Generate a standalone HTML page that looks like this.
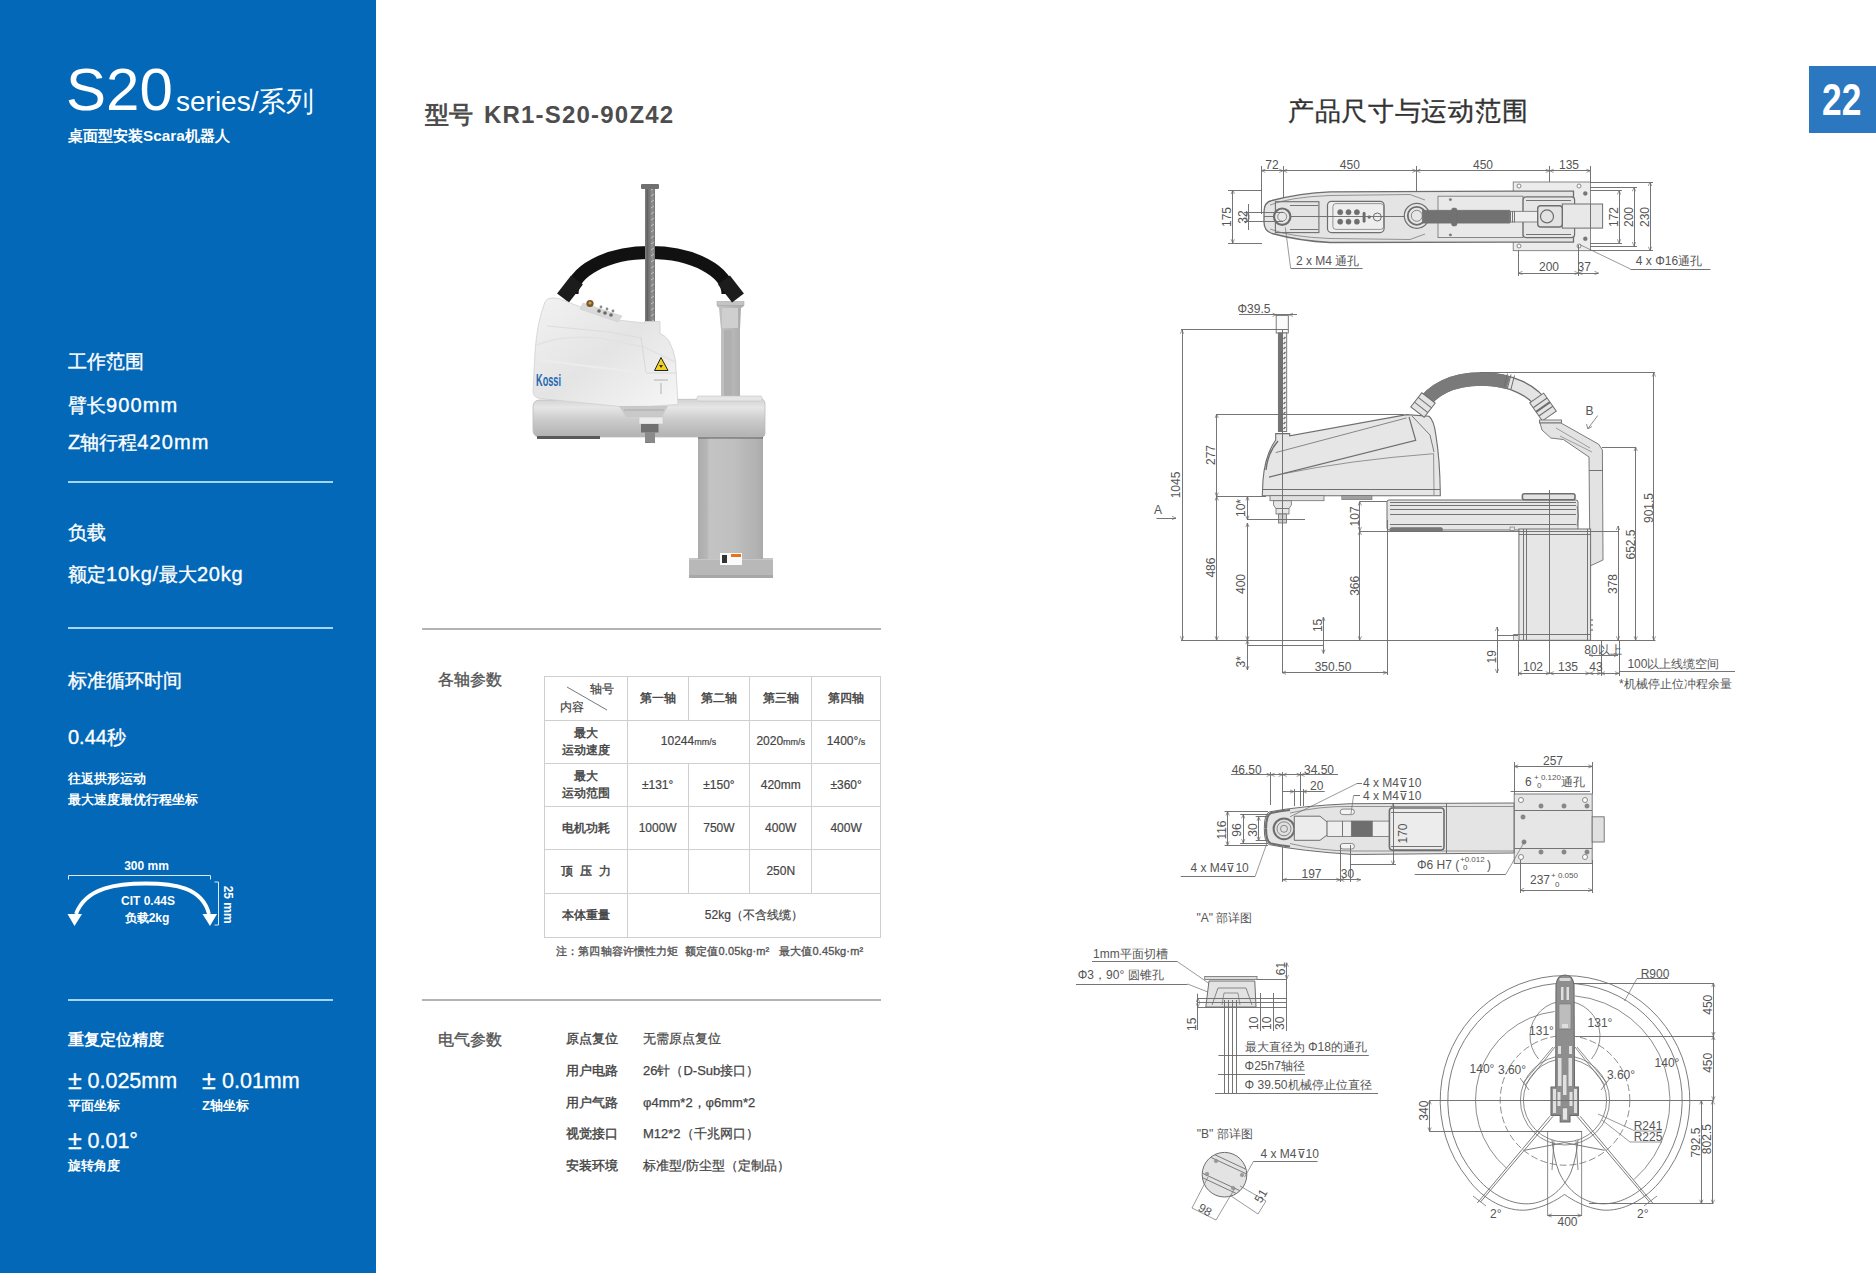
<!DOCTYPE html>
<html><head><meta charset="utf-8">
<style>
*{margin:0;padding:0;box-sizing:border-box}
html,body{width:1876px;height:1273px;overflow:hidden;background:#fff}
body{position:relative;font-family:"Liberation Sans",sans-serif;color:#444}
.a{position:absolute;white-space:nowrap;line-height:1}
#lp{position:absolute;left:0;top:0;width:376px;height:1273px;background:#0268b7;color:#fff}
#lp .a{color:#fff}
.hl{position:absolute;left:68px;width:265px;height:2px;background:#a3d5f7}
.gl{position:absolute;left:422px;width:459px;height:2px;background:#b4b4b4}
#pg{position:absolute;left:1809px;top:66px;width:67px;height:67px;background:#2b78c0}
table.t{position:absolute;left:544px;top:676px;border-collapse:collapse;font-size:12px;color:#444}
table.t td{border:1.5px solid #cfcfcf;text-align:center;vertical-align:middle;line-height:17px;-webkit-text-stroke:0.2px #444}
table.t td.h{font-weight:normal;-webkit-text-stroke:0.45px #444}
.lb{-webkit-text-stroke:0.4px #444}.vl{-webkit-text-stroke:0.25px #444}
svg{position:absolute;left:0;top:0}
</style></head><body>
<div id="lp">
  <div class="a" style="left:66px;top:59.5px;font-size:60px">S20</div>
  <div class="a" style="left:176px;top:88px;font-size:28px">series/系列</div>
  <div class="a" style="left:68px;top:128px;font-size:15.3px;font-weight:bold">桌面型安装Scara机器人</div>

  <div class="a" style="left:68px;top:352.5px;font-size:18.8px;-webkit-text-stroke:0.35px #fff">工作范围</div>
  <div class="a" style="left:68px;top:394.5px;font-size:20px;-webkit-text-stroke:0.35px #fff"><span style="font-size:18.6px">臂长</span><span style="letter-spacing:1.1px">900mm</span></div>
  <div class="a" style="left:68px;top:432px;font-size:20px;-webkit-text-stroke:0.35px #fff">Z<span style="font-size:18.6px">轴行程</span><span style="letter-spacing:1.1px">420mm</span></div>
  <div class="hl" style="top:481px"></div>
  <div class="a" style="left:68px;top:524px;font-size:18.8px;-webkit-text-stroke:0.35px #fff">负载</div>
  <div class="a" style="left:68px;top:564px;font-size:20px;-webkit-text-stroke:0.35px #fff"><span style="font-size:18.6px">额定</span><span style="letter-spacing:0.8px">10kg/</span><span style="font-size:18.6px">最大</span><span style="letter-spacing:0.8px">20kg</span></div>
  <div class="hl" style="top:627px"></div>
  <div class="a" style="left:68px;top:671.5px;font-size:18.8px;-webkit-text-stroke:0.35px #fff">标准循环时间</div>
  <div class="a" style="left:68px;top:726.5px;font-size:20px;-webkit-text-stroke:0.35px #fff">0.44<span style="font-size:18.6px">秒</span></div>
  <div class="a" style="left:68px;top:772px;font-size:13px;font-weight:bold">往返拱形运动</div>
  <div class="a" style="left:68px;top:792.5px;font-size:13px;font-weight:bold">最大速度最优行程坐标</div>
  <svg width="376" height="1273" style="position:absolute;left:0;top:0">
    <text x="146.5" y="866" font-size="12" font-weight="bold" fill="#fff" text-anchor="middle" dominant-baseline="central">300 mm</text>
    <polyline points="68.5,879.5 68.5,875.5 210.5,875.5 210.5,879.5" fill="none" stroke="#dfe9f5" stroke-width="1"/>
    <polyline points="214.5,882 218.5,882 218.5,925 214.5,925" fill="none" stroke="#dfe9f5" stroke-width="1"/>
    <text x="227.5" y="904.7" font-size="12" font-weight="bold" fill="#fff" text-anchor="middle" dominant-baseline="central" transform="rotate(90 227.5 904.7)">25 mm</text>
    <path d="M76,914 C86,887 118,883.5 146,883.5 C174,883.5 202,887 209,914" fill="none" stroke="#fff" stroke-width="3.8"/>
    <polygon points="67.5,914 82,914 74.5,926" fill="#fff"/>
    <polygon points="202.5,914 217,914 210,926" fill="#fff"/>
    <text x="148" y="900.5" font-size="12" font-weight="bold" fill="#fff" text-anchor="middle" dominant-baseline="central">CIT 0.44S</text>
    <text x="147" y="918" font-size="12" font-weight="bold" fill="#fff" text-anchor="middle" dominant-baseline="central">负载2kg</text>
  </svg>
  <div class="hl" style="top:999px"></div>
  <div class="a" style="left:68px;top:1031.5px;font-size:16px;font-weight:bold">重复定位精度</div>
  <div class="a" style="left:68px;top:1067.5px;font-size:21.5px;-webkit-text-stroke:0.3px #fff"><span style="display:inline-block;width:19.5px;font-size:25px;vertical-align:-1px">±</span>0.025mm</div>
  <div class="a" style="left:202px;top:1067.5px;font-size:21.5px;-webkit-text-stroke:0.3px #fff"><span style="display:inline-block;width:20px;font-size:25px;vertical-align:-1px">±</span>0.01mm</div>
  <div class="a" style="left:68px;top:1099px;font-size:13px;font-weight:bold">平面坐标</div>
  <div class="a" style="left:202px;top:1099px;font-size:13px;font-weight:bold">Z轴坐标</div>
  <div class="a" style="left:68px;top:1127.5px;font-size:21.5px;-webkit-text-stroke:0.3px #fff"><span style="display:inline-block;width:19.5px;font-size:25px;vertical-align:-1px">±</span>0.01°</div>
  <div class="a" style="left:68px;top:1159px;font-size:13px;font-weight:bold">旋转角度</div>
</div>

<div class="a" style="left:425px;top:102.5px;font-size:24px;font-weight:bold;color:#4d4d4d">型号</div><div class="a" style="left:484px;top:102.5px;font-size:24px;font-weight:bold;color:#4d4d4d;letter-spacing:1.2px">KR1-S20-90Z42</div>
<div class="gl" style="top:628px"></div>
<div class="a" style="left:438px;top:672px;font-size:16px;color:#555;-webkit-text-stroke:0.35px #555">各轴参数</div>

<table class="t" style="width:337px">
<colgroup><col style="width:83px"><col style="width:61px"><col style="width:62px"><col style="width:62px"><col style="width:69px"></colgroup>
<tr style="height:44px"><td style="position:relative"><svg width="83" height="44" style="position:absolute;left:0;top:0"><line x1="22" y1="10" x2="62" y2="33" stroke="#555" stroke-width="0.8"/></svg><span class="a" style="left:45px;top:6px;font-size:12px">轴号</span><span class="a" style="left:15px;top:24px;font-size:12px">内容</span></td><td class="h">第一轴</td><td class="h">第二轴</td><td class="h">第三轴</td><td class="h">第四轴</td></tr>
<tr style="height:43px"><td class="h">最大<br>运动速度</td><td colspan="2">10244<span style="font-size:9px">mm/s</span></td><td>2020<span style="font-size:9px">mm/s</span></td><td>1400°<span style="font-size:9px">/s</span></td></tr>
<tr style="height:43px"><td class="h">最大<br>运动范围</td><td>±131°</td><td>±150°</td><td>420mm</td><td>±360°</td></tr>
<tr style="height:43px"><td class="h">电机功耗</td><td>1000W</td><td>750W</td><td>400W</td><td>400W</td></tr>
<tr style="height:44px"><td class="h">顶&nbsp;&nbsp;压&nbsp;&nbsp;力</td><td></td><td></td><td>250N</td><td></td></tr>
<tr style="height:44px"><td class="h">本体重量</td><td colspan="4">52kg（不含线缆）</td></tr>
</table>
<div class="a" style="left:556px;top:945.5px;font-size:11px;color:#555;-webkit-text-stroke:0.35px #555;letter-spacing:0.15px">注：第四轴容许惯性力矩&nbsp;&nbsp;额定值0.05kg·m²&nbsp;&nbsp;&nbsp;最大值0.45kg·m²</div>
<div class="a lb" style="left:566px;top:1032px;font-size:13px;color:#444">原点复位</div><div class="a vl" style="left:643px;top:1032px;font-size:13px;color:#444">无需原点复位</div>
<div class="a lb" style="left:566px;top:1064px;font-size:13px;color:#444">用户电路</div><div class="a vl" style="left:643px;top:1064px;font-size:13px;color:#444">26针（D-Sub接口）</div>
<div class="a lb" style="left:566px;top:1096px;font-size:13px;color:#444">用户气路</div><div class="a vl" style="left:643px;top:1096px;font-size:13px;color:#444">φ4mm*2，φ6mm*2</div>
<div class="a lb" style="left:566px;top:1127px;font-size:13px;color:#444">视觉接口</div><div class="a vl" style="left:643px;top:1127px;font-size:13px;color:#444">M12*2（千兆网口）</div>
<div class="a lb" style="left:566px;top:1159px;font-size:13px;color:#444">安装环境</div><div class="a vl" style="left:643px;top:1159px;font-size:13px;color:#444">标准型/防尘型（定制品）</div>
<div class="gl" style="top:999px"></div>
<div class="a" style="left:438px;top:1031.5px;font-size:16px;color:#555;-webkit-text-stroke:0.35px #555">电气参数</div>

<div class="a" style="left:1288px;top:97.5px;font-size:26px;color:#333;letter-spacing:0.7px;-webkit-text-stroke:0.35px #333">产品尺寸与运动范围</div>
<div id="pg"><div class="a" style="left:13px;top:11px;font-size:45px;font-weight:bold;color:#fff;transform:scaleX(0.785);transform-origin:0 0">22</div></div>


<svg id="robot" width="1876" height="1273" viewBox="0 0 1876 1273">
<defs>
<linearGradient id="gArm" x1="0" y1="0" x2="0" y2="1"><stop offset="0" stop-color="#d2d2d2"/><stop offset="0.22" stop-color="#e6e6e6"/><stop offset="0.55" stop-color="#cbcbcb"/><stop offset="1" stop-color="#b2b2b2"/></linearGradient>
<linearGradient id="gCol" x1="0" y1="0" x2="1" y2="0"><stop offset="0" stop-color="#acacac"/><stop offset="0.14" stop-color="#b6b6b6"/><stop offset="0.17" stop-color="#c3c3c3"/><stop offset="0.55" stop-color="#c0c0c0"/><stop offset="0.72" stop-color="#b8b8b8"/><stop offset="0.9" stop-color="#b2b2b2"/><stop offset="1" stop-color="#aaaaaa"/></linearGradient>
<linearGradient id="gHouse" x1="0" y1="0" x2="1" y2="1"><stop offset="0" stop-color="#f2f2f2"/><stop offset="0.5" stop-color="#e4e4e4"/><stop offset="1" stop-color="#f6f6f6"/></linearGradient>
<linearGradient id="gDuct" x1="0" y1="0" x2="1" y2="0"><stop offset="0" stop-color="#c2c2c2"/><stop offset="0.5" stop-color="#bababa"/><stop offset="1" stop-color="#a8a8a8"/></linearGradient>
<linearGradient id="gShaft" x1="0" y1="0" x2="1" y2="0"><stop offset="0" stop-color="#6d6d6d"/><stop offset="0.5" stop-color="#8f8f8f"/><stop offset="1" stop-color="#5e5e5e"/></linearGradient>
<pattern id="pThread" width="9" height="6" patternUnits="userSpaceOnUse"><rect width="9" height="6" fill="url(#gShaft)"/><line x1="3" y1="4" x2="6" y2="2" stroke="#c8c8c8" stroke-width="0.9"/></pattern>
</defs>
<!-- foot and column -->
<rect x="689" y="558" width="84" height="20" fill="#b8b8b8"/>
<rect x="689" y="558" width="84" height="2" fill="#c6c6c6"/><rect x="689" y="575" width="84" height="3" fill="#a8a8a8"/>
<rect x="698" y="436" width="65" height="123" fill="url(#gCol)"/><rect x="698" y="436" width="65" height="2.5" fill="#666"/>
<rect x="720" y="553" width="22" height="12" fill="#fafafa"/>
<rect x="731" y="554" width="10" height="3" fill="#e8731f"/>
<rect x="722" y="555" width="5" height="8" fill="#333"/>
<!-- cable duct -->
<path d="M717,302 L744,302 L744,306 L741,308 L740,330 L740,398 L721,398 L721,330 L719,308 L717,306 Z" fill="url(#gDuct)"/>
<rect x="717" y="301.5" width="27" height="4" fill="#c4c4c4" stroke="#a0a0a0" stroke-width="0.5"/>
<rect x="722" y="308" width="16" height="20" fill="#cfcfcf"/>
<rect x="724" y="330" width="8" height="66" fill="#b0b0b0"/>
<!-- lower arm -->
<path d="M540,400 L762,399 Q765,400 765,404 L765,434 Q765,437 761,437 L540,437 Q533,437 533,430 L533,407 Q533,400 540,400 Z" fill="url(#gArm)" stroke="#bdbdbd" stroke-width="0.8"/>
<rect x="697" y="396" width="65" height="5" rx="1.5" fill="#e6e6e6" stroke="#c4c4c4" stroke-width="0.6"/>
<rect x="537" y="436" width="63" height="3" fill="#5a5a5a"/>
<!-- hose -->
<path d="M572,294 A78,41.5 0 0 1 728,294" fill="none" stroke="#111" stroke-width="13"/>
<line x1="563" y1="298" x2="577" y2="280" stroke="#1c1c1c" stroke-width="15"/>
<line x1="724" y1="280" x2="738" y2="298" stroke="#1c1c1c" stroke-width="15"/>
<!-- shaft -->
<rect x="645" y="188" width="10" height="255" fill="url(#pThread)"/>
<rect x="641" y="184" width="18" height="5" rx="1" fill="#707070"/>
<!-- housing -->
<path d="M549,298.5 Q553,297 560,299 L613,319.5 L644.5,323 L644.5,321.5 L660,321.5 L660,333.5 Q666,336 669,341 Q674,350 675.5,361 L678,404.5 Q650,407 620,406.5 L540,398.5 Q533,397.5 533,391 L535,352 Q537,322 545,302 Q546.5,299 549,298.5 Z" fill="url(#gHouse)" stroke="#d0d0d0" stroke-width="0.8"/>
<path d="M537,345 Q560,335 600,338 L644,347 L675,362" fill="none" stroke="#e2e2e2" stroke-width="1.5"/>
<path d="M547,326 L610,332 L641,338" fill="none" stroke="#dcdcdc" stroke-width="1.2"/>
<path d="M641,337 L646,373 L677,373" fill="none" stroke="#d8d8d8" stroke-width="1"/>
<path d="M540,360 Q600,368 646,373" fill="none" stroke="#ececec" stroke-width="2"/>
<path d="M583,303 L622,316 L618,322 L580,309 Z" fill="#d9d9d9" stroke="#c8c8c8" stroke-width="0.5"/>
<circle cx="590" cy="303.5" r="3.6" fill="#7a5526"/>
<circle cx="590" cy="303" r="1.6" fill="#caa060"/>
<circle cx="599" cy="311" r="1.8" fill="#6a6a6a"/><circle cx="605" cy="313" r="1.8" fill="#6a6a6a"/><circle cx="611" cy="315" r="1.8" fill="#6a6a6a"/>
<circle cx="601" cy="307" r="1.4" fill="#8a8a8a"/><circle cx="607" cy="309" r="1.4" fill="#8a8a8a"/><circle cx="613" cy="311" r="1.4" fill="#8a8a8a"/>
<path d="M661,357.5 L668,370.5 L654.5,370.5 Z" fill="#f2d21a" stroke="#222" stroke-width="1"/>
<path d="M659,365 L663,365 L661,368 Z" fill="#333"/>
<line x1="654" y1="380" x2="668" y2="380" stroke="#888" stroke-width="0.6"/>
<line x1="661" y1="383" x2="661" y2="394" stroke="#888" stroke-width="0.6"/>
<text x="536" y="386" font-family="Liberation Sans" font-size="17" font-weight="bold" fill="#2368b2" textLength="25" lengthAdjust="spacingAndGlyphs">Kossi</text>
<!-- elbow hub -->
<path d="M619,406 L668,406 L662,417 L626,417 Z" fill="#c9c9c9"/>
<path d="M624,410 L664,410" stroke="#aaa" stroke-width="1"/>
<rect x="639" y="417" width="24" height="7" fill="#ececec" stroke="#c4c4c4" stroke-width="0.6"/>
<rect x="641" y="424" width="17.5" height="8.5" fill="#707070"/>
<rect x="645" y="432" width="10" height="10.5" fill="#8a8a8a"/>
</svg>
<!--DRAW-->
<svg id="draw" width="1876" height="1273" viewBox="0 0 1876 1273" font-family="Liberation Sans, sans-serif">
<line x1="1261.3" y1="170.5" x2="1590.5" y2="170.5" stroke="#6e6e6e" stroke-width="0.95" />
<polyline points="1265.3,169.2 1261.3,170.8 1265.3,172.4" fill="none" stroke="#6e6e6e" stroke-width="0.7"/>
<polyline points="1279.2,169.2 1283.2,170.8 1279.2,172.4" fill="none" stroke="#6e6e6e" stroke-width="0.7"/>
<polyline points="1287.2,169.2 1283.2,170.8 1287.2,172.4" fill="none" stroke="#6e6e6e" stroke-width="0.7"/>
<polyline points="1412.4,169.2 1416.4,170.8 1412.4,172.4" fill="none" stroke="#6e6e6e" stroke-width="0.7"/>
<polyline points="1420.4,169.2 1416.4,170.8 1420.4,172.4" fill="none" stroke="#6e6e6e" stroke-width="0.7"/>
<polyline points="1545.7,169.2 1549.7,170.8 1545.7,172.4" fill="none" stroke="#6e6e6e" stroke-width="0.7"/>
<polyline points="1553.7,169.2 1549.7,170.8 1553.7,172.4" fill="none" stroke="#6e6e6e" stroke-width="0.7"/>
<polyline points="1586.5,169.2 1590.5,170.8 1586.5,172.4" fill="none" stroke="#6e6e6e" stroke-width="0.7"/>
<line x1="1261.5" y1="166.0" x2="1261.5" y2="214.0" stroke="#6e6e6e" stroke-width="0.95" />
<line x1="1283.5" y1="166.0" x2="1283.5" y2="236.0" stroke="#6e6e6e" stroke-width="0.95" />
<line x1="1416.5" y1="166.0" x2="1416.5" y2="200.0" stroke="#6e6e6e" stroke-width="0.95" />
<line x1="1549.5" y1="166.0" x2="1549.5" y2="246.0" stroke="#6e6e6e" stroke-width="0.95" />
<line x1="1590.5" y1="166.0" x2="1590.5" y2="183.0" stroke="#6e6e6e" stroke-width="0.95" />
<text x="1272.0" y="165.0" font-size="12" text-anchor="middle" dominant-baseline="central" fill="#555" font-weight="normal" >72</text>
<text x="1349.8" y="165.0" font-size="12" text-anchor="middle" dominant-baseline="central" fill="#555" font-weight="normal" >450</text>
<text x="1483.0" y="165.0" font-size="12" text-anchor="middle" dominant-baseline="central" fill="#555" font-weight="normal" >450</text>
<text x="1569.0" y="165.0" font-size="12" text-anchor="middle" dominant-baseline="central" fill="#555" font-weight="normal" >135</text>
<rect x="1513.2" y="182.0" width="77.3" height="68.7" rx="0" fill="#ececec" stroke="#6e6e6e" stroke-width="0.8"/>
<circle cx="1519.0" cy="186.0" r="2.0" fill="#fff" stroke="#6e6e6e" stroke-width="0.8" />
<circle cx="1579.0" cy="186.0" r="2.0" fill="#fff" stroke="#6e6e6e" stroke-width="0.8" />
<circle cx="1519.0" cy="246.0" r="2.0" fill="#fff" stroke="#6e6e6e" stroke-width="0.8" />
<circle cx="1579.0" cy="246.0" r="2.0" fill="#fff" stroke="#6e6e6e" stroke-width="0.8" />
<path d="M1264,212 Q1264,202 1272,200.5 Q1300,193 1330,191.8 L1513,191.2 L1573.5,191.2 L1573.5,242.1 L1513,242.1 L1330,242.5 Q1300,241 1272,233.5 Q1264,231 1264,222 Z" fill="#e4e4e4" stroke="#6e6e6e" stroke-width="1.3" />
<path d="M1270,205 Q1290,197 1330,195.5 L1410,194.5 L1425,200" fill="none" stroke="#6e6e6e" stroke-width="0.7" />
<path d="M1270,229 Q1290,237 1330,238.5 L1410,239.5 L1425,234" fill="none" stroke="#6e6e6e" stroke-width="0.7" />
<rect x="1275.4" y="201.7" width="43.5" height="30.9" rx="0" fill="none" stroke="#6e6e6e" stroke-width="1.1"/>
<line x1="1290.0" y1="205.5" x2="1318.0" y2="205.5" stroke="#6e6e6e" stroke-width="0.95" />
<line x1="1290.0" y1="229.5" x2="1318.0" y2="229.5" stroke="#6e6e6e" stroke-width="0.95" />
<rect x="1438.0" y="196.2" width="85.0" height="41.4" rx="0" fill="#e9e9e9" stroke="#6e6e6e" stroke-width="0.8"/>
<circle cx="1450.4" cy="199.6" r="1.2" fill="#777" stroke="#6e6e6e" stroke-width="0.4" />
<circle cx="1450.4" cy="234.9" r="1.2" fill="#777" stroke="#6e6e6e" stroke-width="0.4" />
<rect x="1523.1" y="196.8" width="51.5" height="40.8" rx="3" fill="#e6e6e6" stroke="#6e6e6e" stroke-width="1.2"/>
<line x1="1526.0" y1="200.5" x2="1571.0" y2="200.5" stroke="#6e6e6e" stroke-width="0.95" />
<line x1="1526.0" y1="234.5" x2="1571.0" y2="234.5" stroke="#6e6e6e" stroke-width="0.95" />
<rect x="1562.3" y="204.0" width="40.3" height="24.1" rx="0" fill="#e8e8e8" stroke="#6e6e6e" stroke-width="1.0"/>
<line x1="1590.5" y1="204.0" x2="1590.5" y2="228.1" stroke="#6e6e6e" stroke-width="0.95" />
<circle cx="1585.3" cy="193.4" r="2.0" fill="#777" stroke="#6e6e6e" stroke-width="0.4" />
<circle cx="1585.3" cy="238.8" r="2.0" fill="#777" stroke="#6e6e6e" stroke-width="0.4" />
<rect x="1327.5" y="201.3" width="56.6" height="31.3" rx="4" fill="#eeeeee" stroke="#6e6e6e" stroke-width="1.2"/>
<rect x="1332.9" y="203.6" width="50.8" height="25.8" rx="3" fill="none" stroke="#6e6e6e" stroke-width="0.7"/>
<circle cx="1340.2" cy="212.2" r="2.6" fill="#6e6e6e" stroke="#6e6e6e" stroke-width="0.5" />
<circle cx="1340.2" cy="221.7" r="2.6" fill="#6e6e6e" stroke="#6e6e6e" stroke-width="0.5" />
<circle cx="1348.5" cy="212.2" r="2.6" fill="#6e6e6e" stroke="#6e6e6e" stroke-width="0.5" />
<circle cx="1348.5" cy="221.7" r="2.6" fill="#6e6e6e" stroke="#6e6e6e" stroke-width="0.5" />
<circle cx="1356.9" cy="212.2" r="2.6" fill="#6e6e6e" stroke="#6e6e6e" stroke-width="0.5" />
<circle cx="1356.9" cy="221.7" r="2.6" fill="#6e6e6e" stroke="#6e6e6e" stroke-width="0.5" />
<rect x="1362.8" y="212.0" width="2.6" height="10.5" rx="1.3" fill="#6e6e6e" stroke="#6e6e6e" stroke-width="0.3"/>
<circle cx="1369.2" cy="217.0" r="1.5" fill="#6e6e6e" stroke="#6e6e6e" stroke-width="0.3" />
<circle cx="1377.3" cy="217.0" r="4.0" fill="none" stroke="#6e6e6e" stroke-width="1.0" />
<line x1="1264.0" y1="216.5" x2="1430.0" y2="216.5" stroke="#6e6e6e" stroke-width="0.95" />
<circle cx="1282.2" cy="216.7" r="8.2" fill="#e8e8e8" stroke="#6e6e6e" stroke-width="2.2" />
<circle cx="1282.2" cy="216.7" r="4.5" fill="none" stroke="#6e6e6e" stroke-width="0.8" />
<circle cx="1416.8" cy="215.8" r="12.5" fill="#e6e6e6" stroke="#6e6e6e" stroke-width="1.2" />
<circle cx="1416.8" cy="215.8" r="9.0" fill="none" stroke="#6e6e6e" stroke-width="1.8" />
<circle cx="1416.8" cy="215.8" r="5.5" fill="none" stroke="#6e6e6e" stroke-width="0.8" />
<rect x="1422.4" y="210.2" width="87.3" height="12.9" rx="0" fill="#727272" stroke="#6e6e6e" stroke-width="0.6"/>
<rect x="1451.5" y="208.0" width="5.5" height="18.0" rx="2" fill="#727272" stroke="#6e6e6e" stroke-width="0.5"/>
<rect x="1509.7" y="211.3" width="28.0" height="10.7" rx="0" fill="#eeeeee" stroke="#6e6e6e" stroke-width="0.8"/>
<line x1="1510.5" y1="211.0" x2="1510.5" y2="222.5" stroke="#6e6e6e" stroke-width="0.95" />
<line x1="1512.5" y1="211.0" x2="1512.5" y2="222.5" stroke="#6e6e6e" stroke-width="0.95" />
<line x1="1514.5" y1="211.0" x2="1514.5" y2="222.5" stroke="#6e6e6e" stroke-width="0.95" />
<rect x="1537.7" y="205.7" width="24.6" height="21.3" rx="3" fill="#e3e3e3" stroke="#6e6e6e" stroke-width="1.4"/>
<circle cx="1547.0" cy="216.4" r="6.5" fill="none" stroke="#6e6e6e" stroke-width="1.2" />
<line x1="1232.5" y1="190.0" x2="1232.5" y2="243.3" stroke="#6e6e6e" stroke-width="0.95" />
<polyline points="1231.2,194.0 1232.8,190.0 1234.4,194.0" fill="none" stroke="#6e6e6e" stroke-width="0.7"/>
<polyline points="1231.2,239.3 1232.8,243.3 1234.4,239.3" fill="none" stroke="#6e6e6e" stroke-width="0.7"/>
<line x1="1228.0" y1="190.5" x2="1262.0" y2="190.5" stroke="#6e6e6e" stroke-width="0.95" />
<line x1="1228.0" y1="243.5" x2="1262.0" y2="243.5" stroke="#6e6e6e" stroke-width="0.95" />
<text x="1226.5" y="217.0" font-size="12" text-anchor="middle" dominant-baseline="central" fill="#555" font-weight="normal" transform="rotate(-90 1226.5 217.0)" >175</text>
<line x1="1248.5" y1="212.6" x2="1248.5" y2="221.4" stroke="#6e6e6e" stroke-width="0.95" />
<polyline points="1246.4,216.6 1248.0,212.6 1249.6,216.6" fill="none" stroke="#6e6e6e" stroke-width="0.7"/>
<polyline points="1246.4,217.4 1248.0,221.4 1249.6,217.4" fill="none" stroke="#6e6e6e" stroke-width="0.7"/>
<line x1="1248.5" y1="204.0" x2="1248.5" y2="230.0" stroke="#6e6e6e" stroke-width="0.95" />
<line x1="1244.0" y1="212.5" x2="1283.0" y2="212.5" stroke="#6e6e6e" stroke-width="0.95" />
<line x1="1244.0" y1="221.5" x2="1283.0" y2="221.5" stroke="#6e6e6e" stroke-width="0.95" />
<text x="1242.5" y="217.0" font-size="12" text-anchor="middle" dominant-baseline="central" fill="#555" font-weight="normal" transform="rotate(-90 1242.5 217.0)" >32</text>
<line x1="1619.5" y1="190.5" x2="1619.5" y2="243.3" stroke="#6e6e6e" stroke-width="0.95" />
<polyline points="1617.4,194.5 1619.0,190.5 1620.6,194.5" fill="none" stroke="#6e6e6e" stroke-width="0.7"/>
<polyline points="1617.4,239.3 1619.0,243.3 1620.6,239.3" fill="none" stroke="#6e6e6e" stroke-width="0.7"/>
<line x1="1590.0" y1="190.5" x2="1622.0" y2="190.5" stroke="#6e6e6e" stroke-width="0.95" />
<line x1="1590.0" y1="243.5" x2="1622.0" y2="243.5" stroke="#6e6e6e" stroke-width="0.95" />
<text x="1613.5" y="217.0" font-size="12" text-anchor="middle" dominant-baseline="central" fill="#555" font-weight="normal" transform="rotate(-90 1613.5 217.0)" >172</text>
<line x1="1634.5" y1="187.3" x2="1634.5" y2="246.0" stroke="#6e6e6e" stroke-width="0.95" />
<polyline points="1632.4,191.3 1634.0,187.3 1635.6,191.3" fill="none" stroke="#6e6e6e" stroke-width="0.7"/>
<polyline points="1632.4,242.0 1634.0,246.0 1635.6,242.0" fill="none" stroke="#6e6e6e" stroke-width="0.7"/>
<line x1="1590.0" y1="187.5" x2="1637.0" y2="187.5" stroke="#6e6e6e" stroke-width="0.95" />
<line x1="1590.0" y1="246.5" x2="1637.0" y2="246.5" stroke="#6e6e6e" stroke-width="0.95" />
<text x="1628.5" y="217.0" font-size="12" text-anchor="middle" dominant-baseline="central" fill="#555" font-weight="normal" transform="rotate(-90 1628.5 217.0)" >200</text>
<line x1="1650.5" y1="182.0" x2="1650.5" y2="250.7" stroke="#6e6e6e" stroke-width="0.95" />
<polyline points="1648.4,186.0 1650.0,182.0 1651.6,186.0" fill="none" stroke="#6e6e6e" stroke-width="0.7"/>
<polyline points="1648.4,246.7 1650.0,250.7 1651.6,246.7" fill="none" stroke="#6e6e6e" stroke-width="0.7"/>
<line x1="1590.0" y1="182.5" x2="1653.0" y2="182.5" stroke="#6e6e6e" stroke-width="0.95" />
<line x1="1590.0" y1="250.5" x2="1653.0" y2="250.5" stroke="#6e6e6e" stroke-width="0.95" />
<text x="1644.5" y="217.0" font-size="12" text-anchor="middle" dominant-baseline="central" fill="#555" font-weight="normal" transform="rotate(-90 1644.5 217.0)" >230</text>
<line x1="1518.5" y1="273.5" x2="1598.5" y2="273.5" stroke="#6e6e6e" stroke-width="0.95" />
<polyline points="1522.5,271.4 1518.5,273.0 1522.5,274.6" fill="none" stroke="#6e6e6e" stroke-width="0.7"/>
<polyline points="1574.5,271.4 1578.5,273.0 1574.5,274.6" fill="none" stroke="#6e6e6e" stroke-width="0.7"/>
<polyline points="1582.5,271.4 1578.5,273.0 1582.5,274.6" fill="none" stroke="#6e6e6e" stroke-width="0.7"/>
<polyline points="1594.5,271.4 1598.5,273.0 1594.5,274.6" fill="none" stroke="#6e6e6e" stroke-width="0.7"/>
<line x1="1518.5" y1="250.0" x2="1518.5" y2="276.0" stroke="#6e6e6e" stroke-width="0.95" />
<line x1="1578.5" y1="245.0" x2="1578.5" y2="276.0" stroke="#6e6e6e" stroke-width="0.95" />
<text x="1549.0" y="267.0" font-size="12" text-anchor="middle" dominant-baseline="central" fill="#555" font-weight="normal" >200</text>
<text x="1584.3" y="267.0" font-size="12" text-anchor="middle" dominant-baseline="central" fill="#555" font-weight="normal" >37</text>
<text x="1296.0" y="261.4" font-size="12" text-anchor="start" dominant-baseline="central" fill="#555" font-weight="normal" >2 x M4 通孔</text>
<line x1="1290.6" y1="268.5" x2="1362.6" y2="268.5" stroke="#6e6e6e" stroke-width="0.95" />
<line x1="1290.6" y1="268.0" x2="1285.3" y2="227.3" stroke="#6e6e6e" stroke-width="0.7" />
<text x="1635.8" y="261.0" font-size="12" text-anchor="start" dominant-baseline="central" fill="#555" font-weight="normal" >4 x Φ16通孔</text>
<line x1="1630.4" y1="269.5" x2="1710.4" y2="269.5" stroke="#6e6e6e" stroke-width="0.95" />
<line x1="1630.4" y1="269.0" x2="1579.8" y2="244.6" stroke="#6e6e6e" stroke-width="0.7" />
<text x="1254.0" y="308.8" font-size="12" text-anchor="middle" dominant-baseline="central" fill="#555" font-weight="normal" >Φ39.5</text>
<line x1="1239.0" y1="314.5" x2="1297.0" y2="314.5" stroke="#6e6e6e" stroke-width="0.95" />
<polyline points="1272.5,313.2 1276.5,314.8 1272.5,316.4" fill="none" stroke="#6e6e6e" stroke-width="0.7"/>
<polyline points="1293.0,313.2 1289.0,314.8 1293.0,316.4" fill="none" stroke="#6e6e6e" stroke-width="0.7"/>
<rect x="1276.2" y="315.4" width="12.1" height="17.6" rx="0" fill="#fafafa" stroke="#6e6e6e" stroke-width="0.9"/>
<line x1="1276.2" y1="329.5" x2="1288.3" y2="329.5" stroke="#6e6e6e" stroke-width="0.95" />
<rect x="1278.4" y="333.0" width="8.3" height="98.5" rx="0" fill="#f4f4f4" stroke="#6e6e6e" stroke-width="0.9"/>
<rect x="1278.4" y="333.0" width="3.9" height="98.5" rx="0" fill="#737373" stroke="#737373" stroke-width="0.3"/>
<line x1="1283.5" y1="339.0" x2="1285.5" y2="337.0" stroke="#6e6e6e" stroke-width="1.4" />
<line x1="1283.5" y1="344.0" x2="1285.5" y2="342.0" stroke="#6e6e6e" stroke-width="1.4" />
<line x1="1283.5" y1="349.0" x2="1285.5" y2="347.0" stroke="#6e6e6e" stroke-width="1.4" />
<line x1="1283.5" y1="354.0" x2="1285.5" y2="352.0" stroke="#6e6e6e" stroke-width="1.4" />
<line x1="1283.5" y1="359.0" x2="1285.5" y2="357.0" stroke="#6e6e6e" stroke-width="1.4" />
<line x1="1283.5" y1="364.0" x2="1285.5" y2="362.0" stroke="#6e6e6e" stroke-width="1.4" />
<line x1="1283.5" y1="369.0" x2="1285.5" y2="367.0" stroke="#6e6e6e" stroke-width="1.4" />
<line x1="1283.5" y1="374.0" x2="1285.5" y2="372.0" stroke="#6e6e6e" stroke-width="1.4" />
<line x1="1283.5" y1="379.0" x2="1285.5" y2="377.0" stroke="#6e6e6e" stroke-width="1.4" />
<line x1="1283.5" y1="384.0" x2="1285.5" y2="382.0" stroke="#6e6e6e" stroke-width="1.4" />
<line x1="1283.5" y1="389.0" x2="1285.5" y2="387.0" stroke="#6e6e6e" stroke-width="1.4" />
<line x1="1283.5" y1="394.0" x2="1285.5" y2="392.0" stroke="#6e6e6e" stroke-width="1.4" />
<line x1="1283.5" y1="399.0" x2="1285.5" y2="397.0" stroke="#6e6e6e" stroke-width="1.4" />
<line x1="1283.5" y1="404.0" x2="1285.5" y2="402.0" stroke="#6e6e6e" stroke-width="1.4" />
<line x1="1283.5" y1="409.0" x2="1285.5" y2="407.0" stroke="#6e6e6e" stroke-width="1.4" />
<line x1="1283.5" y1="414.0" x2="1285.5" y2="412.0" stroke="#6e6e6e" stroke-width="1.4" />
<line x1="1283.5" y1="419.0" x2="1285.5" y2="417.0" stroke="#6e6e6e" stroke-width="1.4" />
<line x1="1283.5" y1="424.0" x2="1285.5" y2="422.0" stroke="#6e6e6e" stroke-width="1.4" />
<line x1="1283.5" y1="429.0" x2="1285.5" y2="427.0" stroke="#6e6e6e" stroke-width="1.4" />
<path d="M1262.3,495.7 L1263,480 Q1265,455 1275.7,440 L1275.7,433.6 L1289.7,433.6 L1289.7,435.8 L1406.7,414.6 L1429,416.2 Q1434,420 1435.8,434.7 Q1440,460 1440.3,494 L1440.3,495.7 Z" fill="#e6e6e6" stroke="#6e6e6e" stroke-width="1.1" />
<path d="M1269,477.2 L1415.7,440.3 L1409,416.8" fill="none" stroke="#6e6e6e" stroke-width="1.2" />
<path d="M1275.7,452.6 L1406.7,417.9" fill="none" stroke="#6e6e6e" stroke-width="0.8" />
<path d="M1266,470 Q1268,452 1278,441" fill="none" stroke="#6e6e6e" stroke-width="1.4" />
<path d="M1282.5,473.9 Q1350,460 1433.6,453.7 L1434,495" fill="none" stroke="#6e6e6e" stroke-width="0.7" />
<line x1="1263.0" y1="489.5" x2="1440.3" y2="489.5" stroke="#6e6e6e" stroke-width="1.0" />
<path d="M1412,416 L1430,435 L1434,452" fill="none" stroke="#6e6e6e" stroke-width="0.9" />
<rect x="1270.0" y="495.7" width="54.0" height="5.0" rx="0" fill="#e0e0e0" stroke="#6e6e6e" stroke-width="0.8"/>
<path d="M1273.5,500.7 L1291.4,500.7 L1291.4,505 L1289,508.6 L1276,508.6 L1273.5,505 Z" fill="#e6e6e6" stroke="#6e6e6e" stroke-width="0.8" />
<rect x="1276.0" y="508.6" width="13.0" height="5.4" rx="0" fill="#e6e6e6" stroke="#6e6e6e" stroke-width="0.8"/>
<rect x="1278.5" y="514.0" width="8.0" height="9.0" rx="0" fill="#cfcfcf" stroke="#6e6e6e" stroke-width="0.8"/>
<rect x="1341.8" y="495.7" width="30.2" height="4.0" rx="0" fill="#a0a0a0" stroke="#6e6e6e" stroke-width="0.6"/>
<path d="M1422,406 C1432,390 1452,379 1481,379 C1510,379 1534,390 1544,408" fill="none" stroke="#6e6e6e" stroke-width="13.5" />
<path d="M1422,406 C1432,390 1452,379 1481,379 C1510,379 1534,390 1544,408" fill="none" stroke="#e4e4e4" stroke-width="11" />
<path d="M1422,406 C1432,390 1452,379 1481,379 C1510,379 1534,390 1544,408" fill="none" stroke="#7a7a7a" stroke-width="13.5" pathLength="100" stroke-dasharray="68 100"/>
<line x1="1507.5" y1="373.5" x2="1504.0" y2="387.0" stroke="#6e6e6e" stroke-width="1.0" />
<line x1="1511.0" y1="374.5" x2="1507.5" y2="388.0" stroke="#6e6e6e" stroke-width="1.0" />
<line x1="1514.5" y1="375.5" x2="1511.0" y2="389.0" stroke="#6e6e6e" stroke-width="1.0" />
<g transform="translate(1423,405) rotate(-52)"><rect x="-9" y="-8.5" width="18" height="17" fill="#e4e4e4" stroke="#6e6e6e" stroke-width="1"/><line x1="-3" y1="-8.5" x2="-3" y2="8.5" stroke="#6e6e6e" stroke-width="1"/><line x1="3" y1="-8.5" x2="3" y2="8.5" stroke="#6e6e6e" stroke-width="1"/></g>
<g transform="translate(1543,407) rotate(55)"><rect x="-11" y="-8.5" width="22" height="17" fill="#e4e4e4" stroke="#6e6e6e" stroke-width="1"/><line x1="-5" y1="-8.5" x2="-5" y2="8.5" stroke="#6e6e6e" stroke-width="1"/><line x1="0" y1="-8.5" x2="0" y2="8.5" stroke="#6e6e6e" stroke-width="2"/><line x1="5" y1="-8.5" x2="5" y2="8.5" stroke="#6e6e6e" stroke-width="1"/></g>
<rect x="1539.5" y="420.0" width="22.0" height="3.0" rx="0" fill="#e3e3e3" stroke="#6e6e6e" stroke-width="0.9"/>
<path d="M1540,423 L1561,423 L1598.6,444.2 L1602.4,450 L1603,560 L1590,566 L1589,457 L1563.4,439.5 L1550.8,438 L1542,430 Z" fill="#e3e3e3" stroke="#6e6e6e" stroke-width="0.9" />
<path d="M1556,428 L1590,448 M1560,436 L1592,452" fill="none" stroke="#6e6e6e" stroke-width="0.6" />
<line x1="1589.0" y1="470.5" x2="1603.0" y2="470.5" stroke="#6e6e6e" stroke-width="0.95" />
<rect x="1387.0" y="500.0" width="191.0" height="30.0" rx="2" fill="#e6e6e6" stroke="#6e6e6e" stroke-width="1.0"/>
<line x1="1390.0" y1="502.5" x2="1576.0" y2="502.5" stroke="#6e6e6e" stroke-width="0.95" />
<line x1="1390.0" y1="505.5" x2="1576.0" y2="505.5" stroke="#6e6e6e" stroke-width="0.95" />
<line x1="1390.0" y1="509.5" x2="1576.0" y2="509.5" stroke="#6e6e6e" stroke-width="0.95" />
<line x1="1390.0" y1="514.5" x2="1576.0" y2="514.5" stroke="#6e6e6e" stroke-width="0.95" />
<line x1="1390.0" y1="524.5" x2="1576.0" y2="524.5" stroke="#6e6e6e" stroke-width="0.95" />
<rect x="1522.4" y="493.8" width="52.6" height="6.0" rx="2" fill="#e3e3e3" stroke="#707070" stroke-width="1.6"/>
<rect x="1390.0" y="527.6" width="52.5" height="3.9" rx="1.5" fill="#777" stroke="#6e6e6e" stroke-width="0.5"/>
<rect x="1510.0" y="527.0" width="4.6" height="3.5" rx="0" fill="#e6e6e6" stroke="#6e6e6e" stroke-width="0.6"/>
<path d="M1577,506 Q1580,515 1577,526" fill="none" stroke="#6e6e6e" stroke-width="0.8" />
<rect x="1518.9" y="529.0" width="71.7" height="111.3" rx="0" fill="#e6e6e6" stroke="#6e6e6e" stroke-width="1.0"/>
<line x1="1518.9" y1="534.5" x2="1590.6" y2="534.5" stroke="#6e6e6e" stroke-width="0.95" />
<line x1="1513.7" y1="634.5" x2="1590.6" y2="634.5" stroke="#6e6e6e" stroke-width="0.95" />
<line x1="1523.5" y1="529.0" x2="1523.5" y2="640.0" stroke="#6e6e6e" stroke-width="0.95" />
<line x1="1526.5" y1="529.0" x2="1526.5" y2="640.0" stroke="#6e6e6e" stroke-width="0.95" />
<line x1="1587.5" y1="529.0" x2="1587.5" y2="640.0" stroke="#6e6e6e" stroke-width="0.95" />
<rect x="1513.7" y="634.7" width="5.2" height="5.6" rx="0" fill="#e6e6e6" stroke="#6e6e6e" stroke-width="0.6"/>
<line x1="1590.6" y1="620.0" x2="1593.0" y2="620.0" stroke="#6e6e6e" stroke-width="1.2" />
<line x1="1590.6" y1="625.0" x2="1593.0" y2="625.0" stroke="#6e6e6e" stroke-width="1.2" />
<line x1="1590.6" y1="630.0" x2="1593.0" y2="630.0" stroke="#6e6e6e" stroke-width="1.2" />
<line x1="1282.5" y1="330.0" x2="1282.5" y2="673.0" stroke="#6e6e6e" stroke-width="0.95" />
<line x1="1549.5" y1="490.0" x2="1549.5" y2="673.0" stroke="#6e6e6e" stroke-width="0.95" />
<line x1="1181.0" y1="329.5" x2="1277.0" y2="329.5" stroke="#6e6e6e" stroke-width="0.95" />
<line x1="1216.0" y1="414.5" x2="1404.0" y2="414.5" stroke="#6e6e6e" stroke-width="0.95" />
<line x1="1216.0" y1="496.5" x2="1266.0" y2="496.5" stroke="#6e6e6e" stroke-width="0.95" />
<line x1="1247.0" y1="519.5" x2="1305.0" y2="519.5" stroke="#6e6e6e" stroke-width="0.95" />
<line x1="1181.0" y1="640.5" x2="1655.5" y2="640.5" stroke="#6e6e6e" stroke-width="0.95" />
<line x1="1247.0" y1="645.5" x2="1323.0" y2="645.5" stroke="#6e6e6e" stroke-width="0.95" />
<line x1="1359.8" y1="531.5" x2="1619.0" y2="531.5" stroke="#6e6e6e" stroke-width="0.95" />
<line x1="1359.8" y1="501.5" x2="1387.0" y2="501.5" stroke="#6e6e6e" stroke-width="0.95" />
<line x1="1480.0" y1="372.5" x2="1655.0" y2="372.5" stroke="#6e6e6e" stroke-width="0.95" />
<line x1="1602.0" y1="447.5" x2="1636.0" y2="447.5" stroke="#6e6e6e" stroke-width="0.95" />
<line x1="1387.5" y1="520.0" x2="1387.5" y2="675.0" stroke="#6e6e6e" stroke-width="0.95" />
<line x1="1182.5" y1="329.7" x2="1182.5" y2="640.3" stroke="#6e6e6e" stroke-width="0.95" />
<polyline points="1180.4,333.7 1182.0,329.7 1183.6,333.7" fill="none" stroke="#6e6e6e" stroke-width="0.7"/>
<polyline points="1180.4,636.3 1182.0,640.3 1183.6,636.3" fill="none" stroke="#6e6e6e" stroke-width="0.7"/>
<text x="1176.4" y="485.0" font-size="12" text-anchor="middle" dominant-baseline="central" fill="#555" font-weight="normal" transform="rotate(-90 1176.4 485.0)" >1045</text>
<line x1="1216.5" y1="414.0" x2="1216.5" y2="640.3" stroke="#6e6e6e" stroke-width="0.95" />
<polyline points="1215.1,418.0 1216.7,414.0 1218.3,418.0" fill="none" stroke="#6e6e6e" stroke-width="0.7"/>
<polyline points="1215.1,492.5 1216.7,496.5 1218.3,492.5" fill="none" stroke="#6e6e6e" stroke-width="0.7"/>
<polyline points="1215.1,500.5 1216.7,496.5 1218.3,500.5" fill="none" stroke="#6e6e6e" stroke-width="0.7"/>
<polyline points="1215.1,636.3 1216.7,640.3 1218.3,636.3" fill="none" stroke="#6e6e6e" stroke-width="0.7"/>
<text x="1211.0" y="455.0" font-size="12" text-anchor="middle" dominant-baseline="central" fill="#555" font-weight="normal" transform="rotate(-90 1211.0 455.0)" >277</text>
<text x="1211.0" y="567.6" font-size="12" text-anchor="middle" dominant-baseline="central" fill="#555" font-weight="normal" transform="rotate(-90 1211.0 567.6)" >486</text>
<line x1="1247.5" y1="496.5" x2="1247.5" y2="519.7" stroke="#6e6e6e" stroke-width="0.95" />
<polyline points="1245.8,500.5 1247.4,496.5 1249.0,500.5" fill="none" stroke="#6e6e6e" stroke-width="0.7"/>
<polyline points="1245.8,515.7 1247.4,519.7 1249.0,515.7" fill="none" stroke="#6e6e6e" stroke-width="0.7"/>
<text x="1240.8" y="508.0" font-size="12" text-anchor="middle" dominant-baseline="central" fill="#555" font-weight="normal" transform="rotate(-90 1240.8 508.0)" >10*</text>
<line x1="1247.5" y1="523.0" x2="1247.5" y2="640.3" stroke="#6e6e6e" stroke-width="0.95" />
<polyline points="1245.8,527.0 1247.4,523.0 1249.0,527.0" fill="none" stroke="#6e6e6e" stroke-width="0.7"/>
<polyline points="1245.8,636.3 1247.4,640.3 1249.0,636.3" fill="none" stroke="#6e6e6e" stroke-width="0.7"/>
<text x="1240.8" y="584.0" font-size="12" text-anchor="middle" dominant-baseline="central" fill="#555" font-weight="normal" transform="rotate(-90 1240.8 584.0)" >400</text>
<line x1="1247.5" y1="640.3" x2="1247.5" y2="670.0" stroke="#6e6e6e" stroke-width="0.95" />
<polyline points="1245.8,644.3 1247.4,640.3 1249.0,644.3" fill="none" stroke="#6e6e6e" stroke-width="0.7"/>
<polyline points="1245.8,666.0 1247.4,670.0 1249.0,666.0" fill="none" stroke="#6e6e6e" stroke-width="0.7"/>
<text x="1240.8" y="661.8" font-size="12" text-anchor="middle" dominant-baseline="central" fill="#555" font-weight="normal" transform="rotate(-90 1240.8 661.8)" >3*</text>
<line x1="1323.5" y1="617.0" x2="1323.5" y2="653.5" stroke="#6e6e6e" stroke-width="0.95" />
<polyline points="1321.8,621.0 1323.4,617.0 1325.0,621.0" fill="none" stroke="#6e6e6e" stroke-width="0.7"/>
<polyline points="1321.8,649.5 1323.4,653.5 1325.0,649.5" fill="none" stroke="#6e6e6e" stroke-width="0.7"/>
<text x="1318.5" y="625.4" font-size="12" text-anchor="middle" dominant-baseline="central" fill="#555" font-weight="normal" transform="rotate(-90 1318.5 625.4)" >15</text>
<line x1="1359.5" y1="501.5" x2="1359.5" y2="640.3" stroke="#6e6e6e" stroke-width="0.95" />
<polyline points="1358.2,505.5 1359.8,501.5 1361.4,505.5" fill="none" stroke="#6e6e6e" stroke-width="0.7"/>
<polyline points="1358.2,527.0 1359.8,531.0 1361.4,527.0" fill="none" stroke="#6e6e6e" stroke-width="0.7"/>
<polyline points="1358.2,535.0 1359.8,531.0 1361.4,535.0" fill="none" stroke="#6e6e6e" stroke-width="0.7"/>
<polyline points="1358.2,636.3 1359.8,640.3 1361.4,636.3" fill="none" stroke="#6e6e6e" stroke-width="0.7"/>
<text x="1354.8" y="516.4" font-size="12" text-anchor="middle" dominant-baseline="central" fill="#555" font-weight="normal" transform="rotate(-90 1354.8 516.4)" >107</text>
<text x="1354.8" y="585.8" font-size="12" text-anchor="middle" dominant-baseline="central" fill="#555" font-weight="normal" transform="rotate(-90 1354.8 585.8)" >366</text>
<line x1="1653.5" y1="372.6" x2="1653.5" y2="640.3" stroke="#6e6e6e" stroke-width="0.95" />
<polyline points="1652.3,376.6 1653.9,372.6 1655.5,376.6" fill="none" stroke="#6e6e6e" stroke-width="0.7"/>
<polyline points="1652.3,636.3 1653.9,640.3 1655.5,636.3" fill="none" stroke="#6e6e6e" stroke-width="0.7"/>
<text x="1648.5" y="508.0" font-size="12" text-anchor="middle" dominant-baseline="central" fill="#555" font-weight="normal" transform="rotate(-90 1648.5 508.0)" >901.5</text>
<line x1="1635.5" y1="447.0" x2="1635.5" y2="640.3" stroke="#6e6e6e" stroke-width="0.95" />
<polyline points="1634.1,451.0 1635.7,447.0 1637.3,451.0" fill="none" stroke="#6e6e6e" stroke-width="0.7"/>
<polyline points="1634.1,636.3 1635.7,640.3 1637.3,636.3" fill="none" stroke="#6e6e6e" stroke-width="0.7"/>
<text x="1630.5" y="544.5" font-size="12" text-anchor="middle" dominant-baseline="central" fill="#555" font-weight="normal" transform="rotate(-90 1630.5 544.5)" >652.5</text>
<line x1="1618.5" y1="526.0" x2="1618.5" y2="640.3" stroke="#6e6e6e" stroke-width="0.95" />
<polyline points="1616.4,530.0 1618.0,526.0 1619.6,530.0" fill="none" stroke="#6e6e6e" stroke-width="0.7"/>
<polyline points="1616.4,636.3 1618.0,640.3 1619.6,636.3" fill="none" stroke="#6e6e6e" stroke-width="0.7"/>
<text x="1612.6" y="584.0" font-size="12" text-anchor="middle" dominant-baseline="central" fill="#555" font-weight="normal" transform="rotate(-90 1612.6 584.0)" >378</text>
<line x1="1497.5" y1="627.0" x2="1497.5" y2="673.0" stroke="#6e6e6e" stroke-width="0.95" />
<polyline points="1495.4,631.0 1497.0,627.0 1498.6,631.0" fill="none" stroke="#6e6e6e" stroke-width="0.7"/>
<polyline points="1495.4,669.0 1497.0,673.0 1498.6,669.0" fill="none" stroke="#6e6e6e" stroke-width="0.7"/>
<text x="1492.0" y="656.8" font-size="12" text-anchor="middle" dominant-baseline="central" fill="#555" font-weight="normal" transform="rotate(-90 1492.0 656.8)" >19</text>
<line x1="1497.0" y1="635.5" x2="1518.0" y2="635.5" stroke="#6e6e6e" stroke-width="0.95" />
<line x1="1282.0" y1="672.5" x2="1387.0" y2="672.5" stroke="#6e6e6e" stroke-width="0.95" />
<polyline points="1286.0,671.1 1282.0,672.7 1286.0,674.3" fill="none" stroke="#6e6e6e" stroke-width="0.7"/>
<polyline points="1383.0,671.1 1387.0,672.7 1383.0,674.3" fill="none" stroke="#6e6e6e" stroke-width="0.7"/>
<text x="1333.0" y="666.7" font-size="12" text-anchor="middle" dominant-baseline="central" fill="#555" font-weight="normal" >350.50</text>
<line x1="1518.0" y1="673.5" x2="1619.0" y2="673.5" stroke="#6e6e6e" stroke-width="0.95" />
<polyline points="1522.0,671.7 1518.0,673.3 1522.0,674.9" fill="none" stroke="#6e6e6e" stroke-width="0.7"/>
<polyline points="1545.8,671.7 1549.8,673.3 1545.8,674.9" fill="none" stroke="#6e6e6e" stroke-width="0.7"/>
<polyline points="1553.8,671.7 1549.8,673.3 1553.8,674.9" fill="none" stroke="#6e6e6e" stroke-width="0.7"/>
<polyline points="1585.4,671.7 1589.4,673.3 1585.4,674.9" fill="none" stroke="#6e6e6e" stroke-width="0.7"/>
<polyline points="1593.4,671.7 1589.4,673.3 1593.4,674.9" fill="none" stroke="#6e6e6e" stroke-width="0.7"/>
<polyline points="1597.0,671.7 1601.0,673.3 1597.0,674.9" fill="none" stroke="#6e6e6e" stroke-width="0.7"/>
<polyline points="1605.0,671.7 1601.0,673.3 1605.0,674.9" fill="none" stroke="#6e6e6e" stroke-width="0.7"/>
<polyline points="1615.0,671.7 1619.0,673.3 1615.0,674.9" fill="none" stroke="#6e6e6e" stroke-width="0.7"/>
<line x1="1518.5" y1="640.0" x2="1518.5" y2="676.0" stroke="#6e6e6e" stroke-width="0.95" />
<line x1="1601.5" y1="640.0" x2="1601.5" y2="676.0" stroke="#6e6e6e" stroke-width="0.95" />
<line x1="1619.5" y1="640.0" x2="1619.5" y2="676.0" stroke="#6e6e6e" stroke-width="0.95" />
<text x="1533.0" y="666.7" font-size="12" text-anchor="middle" dominant-baseline="central" fill="#555" font-weight="normal" >102</text>
<text x="1568.0" y="666.7" font-size="12" text-anchor="middle" dominant-baseline="central" fill="#555" font-weight="normal" >135</text>
<text x="1596.0" y="666.7" font-size="12" text-anchor="middle" dominant-baseline="central" fill="#555" font-weight="normal" >43</text>
<text x="1603.0" y="649.5" font-size="12" text-anchor="middle" dominant-baseline="central" fill="#555" font-weight="normal" >80以上</text>
<line x1="1589.0" y1="655.5" x2="1618.0" y2="655.5" stroke="#6e6e6e" stroke-width="0.95" />
<polyline points="1593.0,653.4 1589.0,655.0 1593.0,656.6" fill="none" stroke="#6e6e6e" stroke-width="0.7"/>
<polyline points="1614.0,653.4 1618.0,655.0 1614.0,656.6" fill="none" stroke="#6e6e6e" stroke-width="0.7"/>
<text x="1627.4" y="664.4" font-size="12" text-anchor="start" dominant-baseline="central" fill="#555" font-weight="normal" >100以上线缆空间</text>
<line x1="1619.0" y1="671.5" x2="1735.0" y2="671.5" stroke="#6e6e6e" stroke-width="0.95" />
<text x="1619.0" y="684.0" font-size="12" text-anchor="start" dominant-baseline="central" fill="#555" font-weight="normal" >*机械停止位冲程余量</text>
<text x="1158.0" y="509.8" font-size="12" text-anchor="middle" dominant-baseline="central" fill="#555" font-weight="normal" >A</text>
<line x1="1156.5" y1="518.5" x2="1176.0" y2="518.5" stroke="#6e6e6e" stroke-width="0.95" />
<polyline points="1172.0,516.4 1176.0,518.0 1172.0,519.6" fill="none" stroke="#6e6e6e" stroke-width="0.7"/>
<text x="1589.4" y="410.6" font-size="12" text-anchor="middle" dominant-baseline="central" fill="#555" font-weight="normal" >B</text>
<line x1="1597.7" y1="415.6" x2="1587.8" y2="428.8" stroke="#6e6e6e" stroke-width="0.8" />
<polyline points="1586.5,424.0 1587.8,428.8 1592.0,426.5" fill="none" stroke="#6e6e6e" stroke-width="0.8"/>
<text x="1246.7" y="769.5" font-size="12" text-anchor="middle" dominant-baseline="central" fill="#555" font-weight="normal" >46.50</text>
<text x="1319.0" y="769.5" font-size="12" text-anchor="middle" dominant-baseline="central" fill="#555" font-weight="normal" >34.50</text>
<text x="1316.8" y="786.3" font-size="12" text-anchor="middle" dominant-baseline="central" fill="#555" font-weight="normal" >20</text>
<line x1="1231.0" y1="774.5" x2="1338.0" y2="774.5" stroke="#6e6e6e" stroke-width="0.95" />
<polyline points="1266.7,773.2 1270.7,774.8 1266.7,776.4" fill="none" stroke="#6e6e6e" stroke-width="0.7"/>
<polyline points="1274.7,773.2 1270.7,774.8 1274.7,776.4" fill="none" stroke="#6e6e6e" stroke-width="0.7"/>
<polyline points="1278.7,773.2 1282.7,774.8 1278.7,776.4" fill="none" stroke="#6e6e6e" stroke-width="0.7"/>
<polyline points="1286.7,773.2 1282.7,774.8 1286.7,776.4" fill="none" stroke="#6e6e6e" stroke-width="0.7"/>
<polyline points="1296.7,773.2 1300.7,774.8 1296.7,776.4" fill="none" stroke="#6e6e6e" stroke-width="0.7"/>
<polyline points="1304.7,773.2 1300.7,774.8 1304.7,776.4" fill="none" stroke="#6e6e6e" stroke-width="0.7"/>
<line x1="1282.7" y1="791.5" x2="1324.7" y2="791.5" stroke="#6e6e6e" stroke-width="0.95" />
<polyline points="1290.0,790.0 1294.0,791.6 1290.0,793.2" fill="none" stroke="#6e6e6e" stroke-width="0.7"/>
<polyline points="1307.0,790.0 1303.0,791.6 1307.0,793.2" fill="none" stroke="#6e6e6e" stroke-width="0.7"/>
<line x1="1270.5" y1="772.0" x2="1270.5" y2="805.0" stroke="#6e6e6e" stroke-width="0.95" />
<line x1="1282.5" y1="772.0" x2="1282.5" y2="882.0" stroke="#6e6e6e" stroke-width="0.95" />
<line x1="1300.5" y1="772.0" x2="1300.5" y2="806.0" stroke="#6e6e6e" stroke-width="0.95" />
<line x1="1294.5" y1="789.0" x2="1294.5" y2="806.0" stroke="#6e6e6e" stroke-width="0.95" />
<line x1="1303.5" y1="789.0" x2="1303.5" y2="806.0" stroke="#6e6e6e" stroke-width="0.95" />
<rect x="1514.2" y="794.0" width="78.0" height="69.5" rx="0" fill="#e6e6e6" stroke="#6e6e6e" stroke-width="0.9"/>
<circle cx="1521.0" cy="800.0" r="2.5" fill="#fff" stroke="#6e6e6e" stroke-width="0.8" />
<circle cx="1585.0" cy="800.0" r="2.5" fill="#fff" stroke="#6e6e6e" stroke-width="0.8" />
<circle cx="1521.0" cy="857.0" r="2.5" fill="#fff" stroke="#6e6e6e" stroke-width="0.8" />
<circle cx="1585.0" cy="857.0" r="2.5" fill="#fff" stroke="#6e6e6e" stroke-width="0.8" />
<circle cx="1541.0" cy="806.0" r="2.2" fill="#888" stroke="#777" stroke-width="0.5" />
<circle cx="1564.0" cy="806.0" r="2.2" fill="#888" stroke="#777" stroke-width="0.5" />
<circle cx="1587.0" cy="806.0" r="2.2" fill="#888" stroke="#777" stroke-width="0.5" />
<circle cx="1541.0" cy="852.0" r="2.2" fill="#888" stroke="#777" stroke-width="0.5" />
<circle cx="1564.0" cy="852.0" r="2.2" fill="#888" stroke="#777" stroke-width="0.5" />
<circle cx="1587.0" cy="852.0" r="2.2" fill="#888" stroke="#777" stroke-width="0.5" />
<circle cx="1523.0" cy="817.0" r="2.2" fill="#888" stroke="#777" stroke-width="0.5" />
<circle cx="1524.0" cy="842.0" r="2.2" fill="#888" stroke="#777" stroke-width="0.5" />
<line x1="1514.2" y1="810.5" x2="1592.2" y2="810.5" stroke="#6e6e6e" stroke-width="0.95" />
<line x1="1514.2" y1="848.5" x2="1592.2" y2="848.5" stroke="#6e6e6e" stroke-width="0.95" />
<rect x="1592.2" y="816.8" width="12.0" height="25.2" rx="0" fill="#e0e0e0" stroke="#6e6e6e" stroke-width="0.9"/>
<path d="M1264.3,828.5 Q1264.3,814 1269.2,811.9 Q1300,806 1350,803.7 L1514,803 L1514,853 L1353.3,854.5 Q1300,851 1269.2,844.6 Q1264.3,843 1264.3,828.5 Z" fill="#e4e4e4" stroke="#6e6e6e" stroke-width="1.0" />
<path d="M1266,828.5 Q1266,815 1271,813 Q1280,811 1290,810" fill="none" stroke="#6e6e6e" stroke-width="2.2" />
<path d="M1266,828.5 Q1266,842 1271,843.5 Q1280,845.5 1290,846.5" fill="none" stroke="#6e6e6e" stroke-width="2.2" />
<path d="M1290,813 Q1320,806 1350,806.5 L1514,806.5" fill="none" stroke="#6e6e6e" stroke-width="0.7" />
<path d="M1290,843.5 Q1320,851 1353,851 L1514,851" fill="none" stroke="#6e6e6e" stroke-width="0.7" />
<circle cx="1284.0" cy="828.8" r="10.4" fill="#e0e0e0" stroke="#6e6e6e" stroke-width="2.0" />
<circle cx="1284.0" cy="828.8" r="7.0" fill="none" stroke="#6e6e6e" stroke-width="0.8" />
<circle cx="1284.0" cy="828.8" r="3.5" fill="none" stroke="#6e6e6e" stroke-width="0.8" />
<path d="M1294.3,816.2 L1320,816.2 L1327.1,822 L1327.1,835 L1320,840.3 L1294.3,840.3 Z" fill="#ececec" stroke="#6e6e6e" stroke-width="1.0" />
<rect x="1327.1" y="821.1" width="62.3" height="15.3" rx="0" fill="#eeeeee" stroke="#6e6e6e" stroke-width="0.8"/>
<line x1="1342.5" y1="821.1" x2="1342.5" y2="836.4" stroke="#6e6e6e" stroke-width="0.95" />
<rect x="1351.2" y="821.1" width="21.3" height="15.3" rx="0" fill="#6e6e6e" stroke="#6e6e6e" stroke-width="0.5"/>
<rect x="1340.2" y="809.1" width="14.2" height="5.5" rx="2.7" fill="#f4f4f4" stroke="#6e6e6e" stroke-width="0.8"/>
<rect x="1340.2" y="843.5" width="14.2" height="5.5" rx="2.7" fill="#f4f4f4" stroke="#6e6e6e" stroke-width="0.8"/>
<rect x="1389.4" y="808.0" width="54.6" height="42.1" rx="3" fill="#ececec" stroke="#6e6e6e" stroke-width="1.6"/>
<line x1="1391.0" y1="812.5" x2="1442.0" y2="812.5" stroke="#6e6e6e" stroke-width="0.95" />
<line x1="1391.0" y1="846.5" x2="1442.0" y2="846.5" stroke="#6e6e6e" stroke-width="0.95" />
<line x1="1446.5" y1="803.0" x2="1446.5" y2="853.0" stroke="#6e6e6e" stroke-width="0.95" />
<line x1="1227.5" y1="811.5" x2="1227.5" y2="845.5" stroke="#6e6e6e" stroke-width="0.95" />
<polyline points="1226.0,815.5 1227.6,811.5 1229.2,815.5" fill="none" stroke="#6e6e6e" stroke-width="0.7"/>
<polyline points="1226.0,841.5 1227.6,845.5 1229.2,841.5" fill="none" stroke="#6e6e6e" stroke-width="0.7"/>
<line x1="1224.6" y1="811.5" x2="1268.0" y2="811.5" stroke="#6e6e6e" stroke-width="0.95" />
<line x1="1224.6" y1="845.5" x2="1268.0" y2="845.5" stroke="#6e6e6e" stroke-width="0.95" />
<text x="1221.6" y="830.0" font-size="12" text-anchor="middle" dominant-baseline="central" fill="#555" font-weight="normal" transform="rotate(-90 1221.6 830.0)" >116</text>
<line x1="1243.5" y1="814.4" x2="1243.5" y2="843.1" stroke="#6e6e6e" stroke-width="0.95" />
<polyline points="1241.6,818.4 1243.2,814.4 1244.8,818.4" fill="none" stroke="#6e6e6e" stroke-width="0.7"/>
<polyline points="1241.6,839.1 1243.2,843.1 1244.8,839.1" fill="none" stroke="#6e6e6e" stroke-width="0.7"/>
<line x1="1240.2" y1="814.5" x2="1268.0" y2="814.5" stroke="#6e6e6e" stroke-width="0.95" />
<line x1="1240.2" y1="843.5" x2="1268.0" y2="843.5" stroke="#6e6e6e" stroke-width="0.95" />
<text x="1237.0" y="830.0" font-size="12" text-anchor="middle" dominant-baseline="central" fill="#555" font-weight="normal" transform="rotate(-90 1237.0 830.0)" >96</text>
<line x1="1258.5" y1="816.8" x2="1258.5" y2="840.7" stroke="#6e6e6e" stroke-width="0.95" />
<polyline points="1257.1,820.8 1258.7,816.8 1260.3,820.8" fill="none" stroke="#6e6e6e" stroke-width="0.7"/>
<polyline points="1257.1,836.7 1258.7,840.7 1260.3,836.7" fill="none" stroke="#6e6e6e" stroke-width="0.7"/>
<line x1="1255.7" y1="816.5" x2="1268.0" y2="816.5" stroke="#6e6e6e" stroke-width="0.95" />
<line x1="1255.7" y1="840.5" x2="1268.0" y2="840.5" stroke="#6e6e6e" stroke-width="0.95" />
<text x="1252.8" y="830.0" font-size="12" text-anchor="middle" dominant-baseline="central" fill="#555" font-weight="normal" transform="rotate(-90 1252.8 830.0)" >30</text>
<line x1="1393.5" y1="803.6" x2="1393.5" y2="864.7" stroke="#6e6e6e" stroke-width="0.95" />
<polyline points="1391.4,807.6 1393.0,803.6 1394.6,807.6" fill="none" stroke="#6e6e6e" stroke-width="0.7"/>
<polyline points="1391.4,860.7 1393.0,864.7 1394.6,860.7" fill="none" stroke="#6e6e6e" stroke-width="0.7"/>
<text x="1402.7" y="833.5" font-size="12" text-anchor="middle" dominant-baseline="central" fill="#555" font-weight="normal" transform="rotate(-90 1402.7 833.5)" >170</text>
<line x1="1350.0" y1="864.5" x2="1396.0" y2="864.5" stroke="#6e6e6e" stroke-width="0.95" />
<text x="1363.0" y="783.0" font-size="12" text-anchor="start" dominant-baseline="central" fill="#555" font-weight="normal" >4 x M4⊽10</text>
<line x1="1357.0" y1="783.5" x2="1362.0" y2="783.5" stroke="#6e6e6e" stroke-width="0.95" />
<line x1="1357.0" y1="783.5" x2="1290.0" y2="816.8" stroke="#6e6e6e" stroke-width="0.7" />
<text x="1363.0" y="795.6" font-size="12" text-anchor="start" dominant-baseline="central" fill="#555" font-weight="normal" >4 x M4⊽10</text>
<line x1="1353.5" y1="795.5" x2="1360.0" y2="795.5" stroke="#6e6e6e" stroke-width="0.95" />
<line x1="1353.5" y1="795.8" x2="1351.0" y2="814.0" stroke="#6e6e6e" stroke-width="0.7" />
<text x="1190.4" y="867.8" font-size="12" text-anchor="start" dominant-baseline="central" fill="#555" font-weight="normal" >4 x M4⊽10</text>
<line x1="1180.8" y1="876.5" x2="1255.0" y2="876.5" stroke="#6e6e6e" stroke-width="0.95" />
<line x1="1255.0" y1="876.7" x2="1267.0" y2="843.0" stroke="#6e6e6e" stroke-width="0.7" />
<text x="1311.5" y="874.3" font-size="12" text-anchor="middle" dominant-baseline="central" fill="#555" font-weight="normal" >197</text>
<text x="1347.5" y="874.3" font-size="12" text-anchor="middle" dominant-baseline="central" fill="#555" font-weight="normal" >30</text>
<line x1="1282.7" y1="879.5" x2="1360.7" y2="879.5" stroke="#6e6e6e" stroke-width="0.95" />
<polyline points="1286.7,878.2 1282.7,879.8 1286.7,881.4" fill="none" stroke="#6e6e6e" stroke-width="0.7"/>
<polyline points="1336.3,878.2 1340.3,879.8 1336.3,881.4" fill="none" stroke="#6e6e6e" stroke-width="0.7"/>
<polyline points="1344.3,878.2 1340.3,879.8 1344.3,881.4" fill="none" stroke="#6e6e6e" stroke-width="0.7"/>
<polyline points="1356.7,878.2 1360.7,879.8 1356.7,881.4" fill="none" stroke="#6e6e6e" stroke-width="0.7"/>
<line x1="1340.5" y1="845.0" x2="1340.5" y2="882.0" stroke="#6e6e6e" stroke-width="0.95" />
<line x1="1350.5" y1="845.0" x2="1350.5" y2="882.0" stroke="#6e6e6e" stroke-width="0.95" />
<text x="1417.0" y="864.7" font-size="12" text-anchor="start" dominant-baseline="central" fill="#555" font-weight="normal" >Φ6 H7 (</text>
<text x="1460.0" y="859.5" font-size="8" text-anchor="start" dominant-baseline="central" fill="#555" font-weight="normal" >+0.012</text>
<text x="1463.0" y="867.5" font-size="8" text-anchor="start" dominant-baseline="central" fill="#555" font-weight="normal" >0</text>
<text x="1487.0" y="864.7" font-size="12" text-anchor="start" dominant-baseline="central" fill="#555" font-weight="normal" >)</text>
<line x1="1414.7" y1="874.5" x2="1505.8" y2="874.5" stroke="#6e6e6e" stroke-width="0.95" />
<line x1="1505.8" y1="874.3" x2="1525.0" y2="840.7" stroke="#6e6e6e" stroke-width="0.7" />
<text x="1553.0" y="761.0" font-size="12" text-anchor="middle" dominant-baseline="central" fill="#555" font-weight="normal" >257</text>
<line x1="1514.2" y1="766.5" x2="1592.2" y2="766.5" stroke="#6e6e6e" stroke-width="0.95" />
<polyline points="1518.2,764.8 1514.2,766.4 1518.2,768.0" fill="none" stroke="#6e6e6e" stroke-width="0.7"/>
<polyline points="1588.2,764.8 1592.2,766.4 1588.2,768.0" fill="none" stroke="#6e6e6e" stroke-width="0.7"/>
<line x1="1514.5" y1="762.0" x2="1514.5" y2="794.0" stroke="#6e6e6e" stroke-width="0.95" />
<line x1="1592.5" y1="762.0" x2="1592.5" y2="794.0" stroke="#6e6e6e" stroke-width="0.95" />
<text x="1525.0" y="782.0" font-size="12" text-anchor="start" dominant-baseline="central" fill="#555" font-weight="normal" >6</text>
<text x="1534.0" y="777.0" font-size="8" text-anchor="start" dominant-baseline="central" fill="#555" font-weight="normal" >+ 0.120</text>
<text x="1537.0" y="785.5" font-size="8" text-anchor="start" dominant-baseline="central" fill="#555" font-weight="normal" >0</text>
<text x="1561.0" y="782.0" font-size="12" text-anchor="start" dominant-baseline="central" fill="#555" font-weight="normal" >通孔</text>
<line x1="1510.6" y1="791.5" x2="1590.0" y2="791.5" stroke="#6e6e6e" stroke-width="0.95" />
<text x="1530.0" y="880.0" font-size="12" text-anchor="start" dominant-baseline="central" fill="#555" font-weight="normal" >237</text>
<text x="1551.0" y="875.0" font-size="8" text-anchor="start" dominant-baseline="central" fill="#555" font-weight="normal" >+ 0.050</text>
<text x="1555.0" y="884.0" font-size="8" text-anchor="start" dominant-baseline="central" fill="#555" font-weight="normal" >0</text>
<line x1="1520.2" y1="890.5" x2="1592.2" y2="890.5" stroke="#6e6e6e" stroke-width="0.95" />
<polyline points="1524.2,888.4 1520.2,890.0 1524.2,891.6" fill="none" stroke="#6e6e6e" stroke-width="0.7"/>
<polyline points="1588.2,888.4 1592.2,890.0 1588.2,891.6" fill="none" stroke="#6e6e6e" stroke-width="0.7"/>
<line x1="1520.5" y1="860.0" x2="1520.5" y2="893.0" stroke="#6e6e6e" stroke-width="0.95" />
<line x1="1592.5" y1="860.0" x2="1592.5" y2="893.0" stroke="#6e6e6e" stroke-width="0.95" />
<text x="1196.4" y="918.0" font-size="12" text-anchor="start" dominant-baseline="central" fill="#555" font-weight="normal" >"A" 部详图</text>
<text x="1093.0" y="953.7" font-size="12" text-anchor="start" dominant-baseline="central" fill="#555" font-weight="normal" >1mm平面切槽</text>
<line x1="1092.0" y1="961.5" x2="1177.4" y2="961.5" stroke="#6e6e6e" stroke-width="0.95" />
<line x1="1177.4" y1="961.6" x2="1210.4" y2="984.4" stroke="#6e6e6e" stroke-width="0.7" />
<text x="1077.8" y="975.3" font-size="12" text-anchor="start" dominant-baseline="central" fill="#555" font-weight="normal" >Φ3，90° 圆锥孔</text>
<line x1="1076.0" y1="984.5" x2="1187.6" y2="984.5" stroke="#6e6e6e" stroke-width="0.95" />
<line x1="1187.6" y1="984.0" x2="1226.4" y2="999.3" stroke="#6e6e6e" stroke-width="0.7" />
<rect x="1204.7" y="976.5" width="52.3" height="3.0" rx="0" fill="#dcdcdc" stroke="#6e6e6e" stroke-width="0.8"/>
<path d="M1205.8,1007 L1209,981 L1254.8,981 L1256,1007 Z" fill="#e3e3e3" stroke="#6e6e6e" stroke-width="1.0" />
<path d="M1212,1005 L1218,988 L1246,988 L1252,1005" fill="none" stroke="#6e6e6e" stroke-width="0.8" />
<path d="M1222,1005 L1224,993 L1238,993 L1240,1005" fill="none" stroke="#6e6e6e" stroke-width="0.7" />
<line x1="1224.5" y1="1000.0" x2="1224.5" y2="1093.8" stroke="#6e6e6e" stroke-width="0.95" />
<line x1="1228.5" y1="1000.0" x2="1228.5" y2="1093.8" stroke="#6e6e6e" stroke-width="0.95" />
<line x1="1232.5" y1="1000.0" x2="1232.5" y2="1093.8" stroke="#6e6e6e" stroke-width="0.95" />
<line x1="1236.5" y1="1000.0" x2="1236.5" y2="1093.8" stroke="#6e6e6e" stroke-width="0.95" />
<line x1="1198.0" y1="998.5" x2="1287.0" y2="998.5" stroke="#6e6e6e" stroke-width="0.95" />
<line x1="1198.0" y1="1002.5" x2="1287.0" y2="1002.5" stroke="#6e6e6e" stroke-width="0.95" />
<line x1="1198.0" y1="1007.5" x2="1287.0" y2="1007.5" stroke="#6e6e6e" stroke-width="0.95" />
<line x1="1257.0" y1="979.5" x2="1287.0" y2="979.5" stroke="#6e6e6e" stroke-width="0.95" />
<line x1="1286.5" y1="962.8" x2="1286.5" y2="979.0" stroke="#6e6e6e" stroke-width="0.95" />
<polyline points="1285.2,966.8 1286.8,962.8 1288.4,966.8" fill="none" stroke="#6e6e6e" stroke-width="0.7"/>
<polyline points="1285.2,975.0 1286.8,979.0 1288.4,975.0" fill="none" stroke="#6e6e6e" stroke-width="0.7"/>
<line x1="1286.5" y1="979.0" x2="1286.5" y2="1031.0" stroke="#6e6e6e" stroke-width="0.95" />
<text x="1281.0" y="968.5" font-size="12" text-anchor="middle" dominant-baseline="central" fill="#555" font-weight="normal" transform="rotate(-90 1281.0 968.5)" >61</text>
<line x1="1197.5" y1="998.0" x2="1197.5" y2="1007.2" stroke="#6e6e6e" stroke-width="0.95" />
<polyline points="1196.3,1002.0 1197.9,998.0 1199.5,1002.0" fill="none" stroke="#6e6e6e" stroke-width="0.7"/>
<polyline points="1196.3,1003.2 1197.9,1007.2 1199.5,1003.2" fill="none" stroke="#6e6e6e" stroke-width="0.7"/>
<line x1="1197.5" y1="993.6" x2="1197.5" y2="1030.0" stroke="#6e6e6e" stroke-width="0.95" />
<text x="1192.2" y="1024.3" font-size="12" text-anchor="middle" dominant-baseline="central" fill="#555" font-weight="normal" transform="rotate(-90 1192.2 1024.3)" >15</text>
<line x1="1260.5" y1="993.0" x2="1260.5" y2="1031.0" stroke="#6e6e6e" stroke-width="0.95" />
<text x="1254.5" y="1023.2" font-size="12" text-anchor="middle" dominant-baseline="central" fill="#555" font-weight="normal" transform="rotate(-90 1254.5 1023.2)" >10</text>
<line x1="1273.5" y1="993.0" x2="1273.5" y2="1031.0" stroke="#6e6e6e" stroke-width="0.95" />
<text x="1267.0" y="1023.2" font-size="12" text-anchor="middle" dominant-baseline="central" fill="#555" font-weight="normal" transform="rotate(-90 1267.0 1023.2)" >10</text>
<text x="1280.5" y="1023.2" font-size="12" text-anchor="middle" dominant-baseline="central" fill="#555" font-weight="normal" transform="rotate(-90 1280.5 1023.2)" >30</text>
<text x="1244.6" y="1047.0" font-size="12" text-anchor="start" dominant-baseline="central" fill="#555" font-weight="normal" >最大直径为 Φ18的通孔</text>
<line x1="1218.4" y1="1055.5" x2="1368.8" y2="1055.5" stroke="#6e6e6e" stroke-width="0.95" />
<text x="1244.6" y="1065.8" font-size="12" text-anchor="start" dominant-baseline="central" fill="#555" font-weight="normal" >Φ25h7轴径</text>
<line x1="1218.0" y1="1074.5" x2="1305.0" y2="1074.5" stroke="#6e6e6e" stroke-width="0.95" />
<text x="1244.6" y="1085.2" font-size="12" text-anchor="start" dominant-baseline="central" fill="#555" font-weight="normal" >Φ 39.50机械停止位直径</text>
<line x1="1215.0" y1="1093.5" x2="1378.0" y2="1093.5" stroke="#6e6e6e" stroke-width="0.95" />
<text x="1196.7" y="1133.7" font-size="12" text-anchor="start" dominant-baseline="central" fill="#555" font-weight="normal" >"B" 部详图</text>
<circle cx="1224.5" cy="1174.7" r="22.3" fill="#e3e3e3" stroke="#6e6e6e" stroke-width="1.0" />
<clipPath id="cpB"><circle cx="1224.5" cy="1174.7" r="22"/></clipPath>
<g clip-path="url(#cpB)"><line x1="1203.2" y1="1149.3" x2="1257.6" y2="1174.7" stroke="#6e6e6e" stroke-width="0.9"/><line x1="1201.5" y1="1153.0" x2="1255.9" y2="1178.3" stroke="#6e6e6e" stroke-width="0.9"/><line x1="1193.9" y1="1169.3" x2="1248.3" y2="1194.6" stroke="#6e6e6e" stroke-width="0.9"/><line x1="1192.2" y1="1172.9" x2="1246.6" y2="1198.3" stroke="#6e6e6e" stroke-width="0.9"/></g>
<circle cx="1216.0" cy="1161.0" r="1.8" fill="#999" stroke="#888" stroke-width="0.5" />
<circle cx="1242.0" cy="1175.0" r="1.8" fill="#999" stroke="#888" stroke-width="0.5" />
<circle cx="1207.0" cy="1174.0" r="1.8" fill="#999" stroke="#888" stroke-width="0.5" />
<circle cx="1233.0" cy="1188.0" r="1.8" fill="#999" stroke="#888" stroke-width="0.5" />
<text x="1260.5" y="1154.2" font-size="12" text-anchor="start" dominant-baseline="central" fill="#555" font-weight="normal" >4 x M4⊽10</text>
<line x1="1253.7" y1="1161.5" x2="1317.5" y2="1161.5" stroke="#6e6e6e" stroke-width="0.95" />
<line x1="1253.7" y1="1161.0" x2="1244.6" y2="1177.0" stroke="#6e6e6e" stroke-width="0.7" />
<polyline points="1208.0,1177.0 1192.0,1208.0 1216.0,1220.0 1235.0,1188.0" fill="none" stroke="#6e6e6e" stroke-width="0.7"/>
<polyline points="1240.0,1186.0 1266.0,1201.0 1258.0,1214.0 1231.0,1196.0" fill="none" stroke="#6e6e6e" stroke-width="0.7"/>
<text x="1205.0" y="1210.0" font-size="12" text-anchor="middle" dominant-baseline="central" fill="#555" font-weight="normal" transform="rotate(30 1205.0 1210.0)" >98</text>
<text x="1261.0" y="1196.0" font-size="12" text-anchor="middle" dominant-baseline="central" fill="#555" font-weight="normal" transform="rotate(-60 1261.0 1196.0)" >51</text>
<path d="M1662.0,1178.9 A124.8,124.8 0 1 0 1468.0,1178.9 " fill="none" stroke="#6e6e6e" stroke-width="0.9"/>
<path d="M1656.1,1174.2 A117.2,117.2 0 1 0 1473.9,1174.2 " fill="none" stroke="#6e6e6e" stroke-width="0.9"/>
<path d="M1662.1,1178.9 C1646,1200 1622,1212 1602,1210 C1586,1208 1572,1200 1564.5,1194.4 C1557,1200 1543,1208 1527,1210 C1507,1212 1483,1200 1467.9,1178.9" fill="none" stroke="#6e6e6e" stroke-width="0.9" />
<path d="M1656,1174.1 C1640,1195 1617,1206 1598,1203.5 C1580,1201 1566,1188 1559,1172 C1555,1162 1553,1150 1552,1140" fill="none" stroke="#6e6e6e" stroke-width="0.9" />
<path d="M1474,1174.1 C1490,1195 1513,1206 1532,1203.5 C1550,1201 1564,1188 1571,1172 C1575,1162 1577,1150 1578,1140" fill="none" stroke="#6e6e6e" stroke-width="0.9" />
<path d="M1506.8,1168.4 A89.5,89.5 0 0 1 1554.6,1011.5" fill="none" stroke="#6e6e6e" stroke-width="0.8" />
<path d="M1574.9,995.9 A105,105 0 0 1 1633.9,1179.6" fill="none" stroke="#6e6e6e" stroke-width="0.8" />
<circle cx="1565.0" cy="1100.4" r="64.8" fill="none" stroke="#6e6e6e" stroke-width="0.8" stroke-dasharray="7,3"/>
<circle cx="1565.0" cy="1100.4" r="44.6" fill="none" stroke="#6e6e6e" stroke-width="0.8" />
<circle cx="1565.0" cy="1100.4" r="41.6" fill="none" stroke="#6e6e6e" stroke-width="0.8" />
<path d="M1591.4,1059.0 A35,35 0 1 0 1538.6,1059.0" fill="none" stroke="#6e6e6e" stroke-width="0.8" />
<line x1="1553.0" y1="1116.3" x2="1480.5" y2="1202.0" stroke="#6e6e6e" stroke-width="0.9" />
<line x1="1549.8" y1="1116.3" x2="1477.3" y2="1203.0" stroke="#6e6e6e" stroke-width="0.9" />
<line x1="1555.0" y1="1047.0" x2="1525.0" y2="1085.0" stroke="#6e6e6e" stroke-width="0.8" />
<line x1="1553.0" y1="1047.0" x2="1523.0" y2="1083.0" stroke="#6e6e6e" stroke-width="0.8" />
<line x1="1529.0" y1="1090.0" x2="1520.0" y2="1078.0" stroke="#6e6e6e" stroke-width="0.8" />
<line x1="1486.0" y1="1206.0" x2="1473.0" y2="1196.0" stroke="#6e6e6e" stroke-width="0.8" />
<line x1="1577.0" y1="1116.3" x2="1649.5" y2="1202.0" stroke="#6e6e6e" stroke-width="0.9" />
<line x1="1580.2" y1="1116.3" x2="1652.7" y2="1203.0" stroke="#6e6e6e" stroke-width="0.9" />
<line x1="1575.0" y1="1047.0" x2="1605.0" y2="1085.0" stroke="#6e6e6e" stroke-width="0.8" />
<line x1="1577.0" y1="1047.0" x2="1607.0" y2="1083.0" stroke="#6e6e6e" stroke-width="0.8" />
<line x1="1601.0" y1="1090.0" x2="1610.0" y2="1078.0" stroke="#6e6e6e" stroke-width="0.8" />
<line x1="1644.0" y1="1206.0" x2="1657.0" y2="1196.0" stroke="#6e6e6e" stroke-width="0.8" />
<path d="M1524.3,1150.3 L1564.5,1142.6 L1604.7,1150.3" fill="none" stroke="#6e6e6e" stroke-width="0.9" />
<path d="M1554,1141 L1552,1170 M1576,1141 L1578,1170" fill="none" stroke="#6e6e6e" stroke-width="0.8" />
<path d="M1556,985 Q1557,975 1565,975 Q1573,975 1574,985 L1574.5,1087 L1578.4,1087 L1578.4,1115.4 L1570,1115.4 L1570,1122 L1560.2,1122 L1560.2,1115.4 L1551,1115.4 L1551,1087 L1555.7,1087 Z" fill="#8e8e8e" stroke="#6a6a6a" stroke-width="1.1" />
<rect x="1559.5" y="978.0" width="11.0" height="3.0" rx="0" fill="#d8d8d8" stroke="none" stroke-width="0"/>
<rect x="1561.0" y="987.0" width="2.5" height="13.0" rx="0" fill="#dedede" stroke="none" stroke-width="0"/>
<rect x="1566.5" y="987.0" width="2.5" height="13.0" rx="0" fill="#dedede" stroke="none" stroke-width="0"/>
<rect x="1559.0" y="1004.0" width="12.0" height="25.0" rx="0" fill="#bdbdbd" stroke="#777" stroke-width="0.6"/>
<rect x="1562.0" y="1024.0" width="6.0" height="4.0" rx="0" fill="#dedede" stroke="none" stroke-width="0"/>
<rect x="1558.0" y="1046.0" width="3.0" height="8.0" rx="0" fill="#e0e0e0" stroke="none" stroke-width="0"/>
<rect x="1569.0" y="1046.0" width="3.0" height="8.0" rx="0" fill="#e0e0e0" stroke="none" stroke-width="0"/>
<rect x="1558.0" y="1058.0" width="3.5" height="28.0" rx="0" fill="#e0e0e0" stroke="none" stroke-width="0"/>
<rect x="1568.5" y="1058.0" width="3.5" height="28.0" rx="0" fill="#e0e0e0" stroke="none" stroke-width="0"/>
<rect x="1563.0" y="1075.0" width="3.5" height="20.0" rx="0" fill="#e0e0e0" stroke="none" stroke-width="0"/>
<rect x="1553.0" y="1089.0" width="3.0" height="24.0" rx="0" fill="#e0e0e0" stroke="none" stroke-width="0"/>
<rect x="1574.0" y="1089.0" width="3.0" height="24.0" rx="0" fill="#e0e0e0" stroke="none" stroke-width="0"/>
<rect x="1557.5" y="1092.0" width="3.0" height="14.0" rx="0" fill="#e0e0e0" stroke="none" stroke-width="0"/>
<rect x="1569.5" y="1092.0" width="3.0" height="14.0" rx="0" fill="#e0e0e0" stroke="none" stroke-width="0"/>
<rect x="1562.5" y="1108.0" width="5.0" height="12.0" rx="0" fill="#e6e6e6" stroke="#777" stroke-width="0.5"/>
<line x1="1573.0" y1="983.5" x2="1713.0" y2="983.5" stroke="#6e6e6e" stroke-width="0.95" />
<line x1="1575.5" y1="1036.5" x2="1713.0" y2="1036.5" stroke="#6e6e6e" stroke-width="0.95" />
<line x1="1429.6" y1="1100.5" x2="1713.0" y2="1100.5" stroke="#6e6e6e" stroke-width="0.95" />
<line x1="1429.6" y1="1131.5" x2="1581.5" y2="1131.5" stroke="#6e6e6e" stroke-width="0.95" />
<rect x="1547.7" y="1131.5" width="34.0" height="84.0" rx="0" fill="none" stroke="#6e6e6e" stroke-width="0.8"/>
<line x1="1547.7" y1="1215.5" x2="1581.5" y2="1215.5" stroke="#6e6e6e" stroke-width="0.95" />
<polyline points="1551.7,1213.9 1547.7,1215.5 1551.7,1217.1" fill="none" stroke="#6e6e6e" stroke-width="0.7"/>
<polyline points="1577.5,1213.9 1581.5,1215.5 1577.5,1217.1" fill="none" stroke="#6e6e6e" stroke-width="0.7"/>
<text x="1567.5" y="1222.3" font-size="12" text-anchor="middle" dominant-baseline="central" fill="#555" font-weight="normal" >400</text>
<line x1="1713.5" y1="983.0" x2="1713.5" y2="1100.4" stroke="#6e6e6e" stroke-width="0.95" />
<polyline points="1711.8,987.0 1713.4,983.0 1715.0,987.0" fill="none" stroke="#6e6e6e" stroke-width="0.7"/>
<polyline points="1711.8,1032.0 1713.4,1036.0 1715.0,1032.0" fill="none" stroke="#6e6e6e" stroke-width="0.7"/>
<polyline points="1711.8,1040.0 1713.4,1036.0 1715.0,1040.0" fill="none" stroke="#6e6e6e" stroke-width="0.7"/>
<polyline points="1711.8,1096.4 1713.4,1100.4 1715.0,1096.4" fill="none" stroke="#6e6e6e" stroke-width="0.7"/>
<text x="1707.7" y="1004.7" font-size="12" text-anchor="middle" dominant-baseline="central" fill="#555" font-weight="normal" transform="rotate(-90 1707.7 1004.7)" >450</text>
<text x="1707.7" y="1062.8" font-size="12" text-anchor="middle" dominant-baseline="central" fill="#555" font-weight="normal" transform="rotate(-90 1707.7 1062.8)" >450</text>
<line x1="1429.5" y1="1100.4" x2="1429.5" y2="1131.5" stroke="#6e6e6e" stroke-width="0.95" />
<polyline points="1428.0,1104.4 1429.6,1100.4 1431.2,1104.4" fill="none" stroke="#6e6e6e" stroke-width="0.7"/>
<polyline points="1428.0,1127.5 1429.6,1131.5 1431.2,1127.5" fill="none" stroke="#6e6e6e" stroke-width="0.7"/>
<text x="1424.5" y="1110.7" font-size="12" text-anchor="middle" dominant-baseline="central" fill="#555" font-weight="normal" transform="rotate(-90 1424.5 1110.7)" >340</text>
<line x1="1701.5" y1="1100.4" x2="1701.5" y2="1203.7" stroke="#6e6e6e" stroke-width="0.95" />
<polyline points="1699.7,1104.4 1701.3,1100.4 1702.9,1104.4" fill="none" stroke="#6e6e6e" stroke-width="0.7"/>
<polyline points="1699.7,1199.7 1701.3,1203.7 1702.9,1199.7" fill="none" stroke="#6e6e6e" stroke-width="0.7"/>
<line x1="1712.5" y1="1100.4" x2="1712.5" y2="1203.7" stroke="#6e6e6e" stroke-width="0.95" />
<polyline points="1711.3,1104.4 1712.9,1100.4 1714.5,1104.4" fill="none" stroke="#6e6e6e" stroke-width="0.7"/>
<polyline points="1711.3,1199.7 1712.9,1203.7 1714.5,1199.7" fill="none" stroke="#6e6e6e" stroke-width="0.7"/>
<line x1="1589.0" y1="1203.5" x2="1713.0" y2="1203.5" stroke="#6e6e6e" stroke-width="0.95" />
<text x="1696.0" y="1142.6" font-size="12" text-anchor="middle" dominant-baseline="central" fill="#555" font-weight="normal" transform="rotate(-90 1696.0 1142.6)" >792.5</text>
<text x="1707.5" y="1139.2" font-size="12" text-anchor="middle" dominant-baseline="central" fill="#555" font-weight="normal" transform="rotate(-90 1707.5 1139.2)" >802.5</text>
<text x="1655.0" y="974.0" font-size="12" text-anchor="middle" dominant-baseline="central" fill="#555" font-weight="normal" >R900</text>
<line x1="1637.0" y1="978.5" x2="1624.5" y2="1001.0" stroke="#6e6e6e" stroke-width="0.7" />
<line x1="1637.0" y1="978.5" x2="1668.0" y2="978.5" stroke="#6e6e6e" stroke-width="0.95" />
<text x="1541.5" y="1031.0" font-size="12" text-anchor="middle" dominant-baseline="central" fill="#555" font-weight="normal" >131°</text>
<text x="1600.0" y="1023.0" font-size="12" text-anchor="middle" dominant-baseline="central" fill="#555" font-weight="normal" >131°</text>
<text x="1482.0" y="1068.5" font-size="12" text-anchor="middle" dominant-baseline="central" fill="#555" font-weight="normal" >140°</text>
<text x="1667.0" y="1062.8" font-size="12" text-anchor="middle" dominant-baseline="central" fill="#555" font-weight="normal" >140°</text>
<text x="1512.0" y="1069.6" font-size="12" text-anchor="middle" dominant-baseline="central" fill="#555" font-weight="normal" >3.60°</text>
<text x="1621.0" y="1074.9" font-size="12" text-anchor="middle" dominant-baseline="central" fill="#555" font-weight="normal" >3.60°</text>
<text x="1648.0" y="1125.5" font-size="12" text-anchor="middle" dominant-baseline="central" fill="#555" font-weight="normal" >R241</text>
<text x="1648.0" y="1136.9" font-size="12" text-anchor="middle" dominant-baseline="central" fill="#555" font-weight="normal" >R225</text>
<polyline points="1598.0,1114.0 1635.0,1131.0 1662.0,1131.0" fill="none" stroke="#6e6e6e" stroke-width="0.7"/>
<polyline points="1602.0,1120.0 1630.0,1142.0 1662.0,1142.0" fill="none" stroke="#6e6e6e" stroke-width="0.7"/>
<text x="1495.7" y="1214.4" font-size="12" text-anchor="middle" dominant-baseline="central" fill="#555" font-weight="normal" >2°</text>
<text x="1642.7" y="1214.4" font-size="12" text-anchor="middle" dominant-baseline="central" fill="#555" font-weight="normal" >2°</text>
</svg>
<!--/DRAW-->
</body></html>
